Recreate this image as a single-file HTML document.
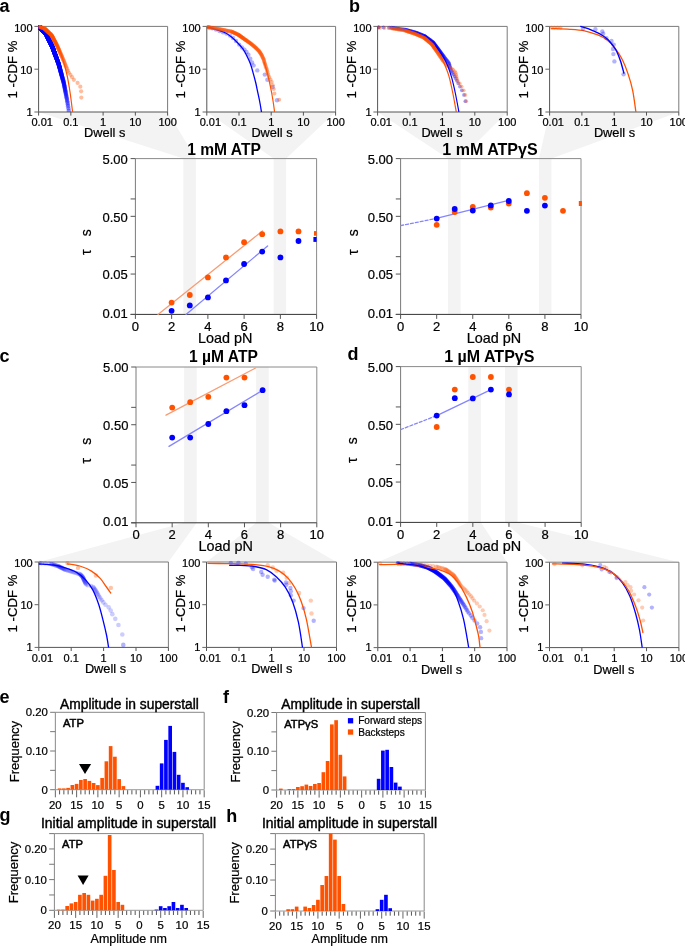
<!DOCTYPE html>
<html><head><meta charset="utf-8"><style>
html,body{margin:0;padding:0;background:#fff;}
svg{display:block;}
.wrap{filter:brightness(1);}
text{font-family:"Liberation Sans",sans-serif;stroke:#000;stroke-width:0.22px;}
text[font-weight="bold"]{stroke-width:0;}
</style></head><body>
<div class="wrap"><svg width="685" height="946" viewBox="0 0 685 946">
<rect width="685" height="946" fill="#fff"/>
<polygon points="38.60,112.00 167.60,112.00 195.85,158.60 183.35,158.60" fill="#f3f3f3"/>
<rect x="183.35" y="158.60" width="12.50" height="155.80" fill="#f3f3f3" />
<polygon points="206.80,112.00 335.60,112.00 286.15,158.60 273.65,158.60" fill="#f3f3f3"/>
<rect x="273.65" y="158.60" width="12.50" height="155.80" fill="#f3f3f3" />
<polygon points="377.60,112.00 507.20,112.00 460.55,158.60 448.05,158.60" fill="#f3f3f3"/>
<rect x="448.05" y="158.60" width="12.50" height="155.80" fill="#f3f3f3" />
<polygon points="549.60,112.00 678.80,112.00 551.45,158.60 538.95,158.60" fill="#f3f3f3"/>
<rect x="538.95" y="158.60" width="12.50" height="155.80" fill="#f3f3f3" />
<polygon points="184.10,522.80 196.70,522.80 168.40,562.00 38.80,562.00" fill="#f3f3f3"/>
<rect x="184.10" y="367.00" width="12.60" height="155.80" fill="#f3f3f3" />
<polygon points="256.10,522.80 268.70,522.80 336.50,562.00 206.50,562.00" fill="#f3f3f3"/>
<rect x="256.10" y="367.00" width="12.60" height="155.80" fill="#f3f3f3" />
<polygon points="468.30,522.40 480.90,522.40 507.00,562.20 377.80,562.20" fill="#f3f3f3"/>
<rect x="468.30" y="366.60" width="12.60" height="155.80" fill="#f3f3f3" />
<polygon points="505.00,522.40 517.60,522.40 678.90,562.20 549.50,562.20" fill="#f3f3f3"/>
<rect x="505.00" y="366.60" width="12.60" height="155.80" fill="#f3f3f3" />
<text x="-0.60" y="12.40" font-size="18" text-anchor="start" font-weight="bold" fill="#000" >a</text>
<text x="349.00" y="12.30" font-size="18" text-anchor="start" font-weight="bold" fill="#000" >b</text>
<text x="-0.40" y="362.30" font-size="18" text-anchor="start" font-weight="bold" fill="#000" >c</text>
<text x="347.60" y="360.00" font-size="18" text-anchor="start" font-weight="bold" fill="#000" >d</text>
<text x="-0.60" y="702.80" font-size="18" text-anchor="start" font-weight="bold" fill="#000" >e</text>
<text x="223.00" y="702.80" font-size="18" text-anchor="start" font-weight="bold" fill="#000" >f</text>
<text x="-0.40" y="820.80" font-size="18" text-anchor="start" font-weight="bold" fill="#000" >g</text>
<text x="226.30" y="821.60" font-size="18" text-anchor="start" font-weight="bold" fill="#000" >h</text>
<line x1="38.60" y1="26.40" x2="167.60" y2="26.40" stroke="#7a7a7a" stroke-width="1" />
<line x1="167.60" y1="26.40" x2="167.60" y2="112.00" stroke="#7a7a7a" stroke-width="1" />
<line x1="38.60" y1="112.00" x2="167.60" y2="112.00" stroke="#555" stroke-width="1" />
<line x1="38.60" y1="26.40" x2="38.60" y2="112.00" stroke="#555" stroke-width="1" />
<line x1="34.40" y1="26.40" x2="38.60" y2="26.40" stroke="#666" stroke-width="1" />
<text x="32.50" y="31.70" font-size="11" text-anchor="end" font-weight="normal" fill="#000" >100</text>
<line x1="34.40" y1="69.20" x2="38.60" y2="69.20" stroke="#666" stroke-width="1" />
<text x="32.50" y="73.70" font-size="11" text-anchor="end" font-weight="normal" fill="#000" >10</text>
<line x1="34.40" y1="112.00" x2="38.60" y2="112.00" stroke="#666" stroke-width="1" />
<text x="32.50" y="115.80" font-size="11" text-anchor="end" font-weight="normal" fill="#000" >1</text>
<line x1="38.60" y1="112.00" x2="38.60" y2="115.60" stroke="#555" stroke-width="1" />
<text x="42.20" y="126.40" font-size="11" text-anchor="middle" font-weight="normal" fill="#000" >0.01</text>
<line x1="70.85" y1="112.00" x2="70.85" y2="115.60" stroke="#555" stroke-width="1" />
<text x="70.85" y="126.40" font-size="11" text-anchor="middle" font-weight="normal" fill="#000" >0.1</text>
<line x1="103.10" y1="112.00" x2="103.10" y2="115.60" stroke="#555" stroke-width="1" />
<text x="103.10" y="126.40" font-size="11" text-anchor="middle" font-weight="normal" fill="#000" >1</text>
<line x1="135.35" y1="112.00" x2="135.35" y2="115.60" stroke="#555" stroke-width="1" />
<text x="135.35" y="126.40" font-size="11" text-anchor="middle" font-weight="normal" fill="#000" >10</text>
<line x1="167.60" y1="112.00" x2="167.60" y2="115.60" stroke="#555" stroke-width="1" />
<text x="167.60" y="126.40" font-size="11" text-anchor="middle" font-weight="normal" fill="#000" >100</text>
<text x="104.70" y="137.00" font-size="12.8" text-anchor="middle" font-weight="normal" fill="#000" >Dwell s</text>
<text transform="translate(16.70,69.50) rotate(-90)" font-size="13.2" text-anchor="middle" font-weight="normal" >1 -CDF %</text>
<line x1="206.80" y1="26.40" x2="335.60" y2="26.40" stroke="#7a7a7a" stroke-width="1" />
<line x1="335.60" y1="26.40" x2="335.60" y2="112.00" stroke="#7a7a7a" stroke-width="1" />
<line x1="206.80" y1="112.00" x2="335.60" y2="112.00" stroke="#555" stroke-width="1" />
<line x1="206.80" y1="26.40" x2="206.80" y2="112.00" stroke="#555" stroke-width="1" />
<line x1="202.60" y1="26.40" x2="206.80" y2="26.40" stroke="#666" stroke-width="1" />
<text x="200.70" y="31.70" font-size="11" text-anchor="end" font-weight="normal" fill="#000" >100</text>
<line x1="202.60" y1="69.20" x2="206.80" y2="69.20" stroke="#666" stroke-width="1" />
<text x="200.70" y="73.70" font-size="11" text-anchor="end" font-weight="normal" fill="#000" >10</text>
<line x1="202.60" y1="112.00" x2="206.80" y2="112.00" stroke="#666" stroke-width="1" />
<text x="200.70" y="115.80" font-size="11" text-anchor="end" font-weight="normal" fill="#000" >1</text>
<line x1="206.80" y1="112.00" x2="206.80" y2="115.60" stroke="#555" stroke-width="1" />
<text x="210.40" y="126.40" font-size="11" text-anchor="middle" font-weight="normal" fill="#000" >0.01</text>
<line x1="239.00" y1="112.00" x2="239.00" y2="115.60" stroke="#555" stroke-width="1" />
<text x="239.00" y="126.40" font-size="11" text-anchor="middle" font-weight="normal" fill="#000" >0.1</text>
<line x1="271.20" y1="112.00" x2="271.20" y2="115.60" stroke="#555" stroke-width="1" />
<text x="271.20" y="126.40" font-size="11" text-anchor="middle" font-weight="normal" fill="#000" >1</text>
<line x1="303.40" y1="112.00" x2="303.40" y2="115.60" stroke="#555" stroke-width="1" />
<text x="303.40" y="126.40" font-size="11" text-anchor="middle" font-weight="normal" fill="#000" >10</text>
<line x1="335.60" y1="112.00" x2="335.60" y2="115.60" stroke="#555" stroke-width="1" />
<text x="335.60" y="126.40" font-size="11" text-anchor="middle" font-weight="normal" fill="#000" >100</text>
<text x="272.00" y="137.00" font-size="12.8" text-anchor="middle" font-weight="normal" fill="#000" >Dwell s</text>
<text transform="translate(184.90,69.50) rotate(-90)" font-size="13.2" text-anchor="middle" font-weight="normal" >1 -CDF %</text>
<line x1="377.60" y1="26.40" x2="507.20" y2="26.40" stroke="#7a7a7a" stroke-width="1" />
<line x1="507.20" y1="26.40" x2="507.20" y2="112.00" stroke="#7a7a7a" stroke-width="1" />
<line x1="377.60" y1="112.00" x2="507.20" y2="112.00" stroke="#555" stroke-width="1" />
<line x1="377.60" y1="26.40" x2="377.60" y2="112.00" stroke="#555" stroke-width="1" />
<line x1="373.40" y1="26.40" x2="377.60" y2="26.40" stroke="#666" stroke-width="1" />
<text x="371.50" y="31.70" font-size="11" text-anchor="end" font-weight="normal" fill="#000" >100</text>
<line x1="373.40" y1="69.20" x2="377.60" y2="69.20" stroke="#666" stroke-width="1" />
<text x="371.50" y="73.70" font-size="11" text-anchor="end" font-weight="normal" fill="#000" >10</text>
<line x1="373.40" y1="112.00" x2="377.60" y2="112.00" stroke="#666" stroke-width="1" />
<text x="371.50" y="115.80" font-size="11" text-anchor="end" font-weight="normal" fill="#000" >1</text>
<line x1="377.60" y1="112.00" x2="377.60" y2="115.60" stroke="#555" stroke-width="1" />
<text x="381.20" y="126.40" font-size="11" text-anchor="middle" font-weight="normal" fill="#000" >0.01</text>
<line x1="410.00" y1="112.00" x2="410.00" y2="115.60" stroke="#555" stroke-width="1" />
<text x="410.00" y="126.40" font-size="11" text-anchor="middle" font-weight="normal" fill="#000" >0.1</text>
<line x1="442.40" y1="112.00" x2="442.40" y2="115.60" stroke="#555" stroke-width="1" />
<text x="442.40" y="126.40" font-size="11" text-anchor="middle" font-weight="normal" fill="#000" >1</text>
<line x1="474.80" y1="112.00" x2="474.80" y2="115.60" stroke="#555" stroke-width="1" />
<text x="474.80" y="126.40" font-size="11" text-anchor="middle" font-weight="normal" fill="#000" >10</text>
<line x1="507.20" y1="112.00" x2="507.20" y2="115.60" stroke="#555" stroke-width="1" />
<text x="507.20" y="126.40" font-size="11" text-anchor="middle" font-weight="normal" fill="#000" >100</text>
<text x="442.00" y="137.00" font-size="12.8" text-anchor="middle" font-weight="normal" fill="#000" >Dwell s</text>
<text transform="translate(355.70,69.50) rotate(-90)" font-size="13.2" text-anchor="middle" font-weight="normal" >1 -CDF %</text>
<line x1="549.60" y1="26.40" x2="678.80" y2="26.40" stroke="#7a7a7a" stroke-width="1" />
<line x1="678.80" y1="26.40" x2="678.80" y2="112.00" stroke="#7a7a7a" stroke-width="1" />
<line x1="549.60" y1="112.00" x2="678.80" y2="112.00" stroke="#555" stroke-width="1" />
<line x1="549.60" y1="26.40" x2="549.60" y2="112.00" stroke="#555" stroke-width="1" />
<line x1="545.40" y1="26.40" x2="549.60" y2="26.40" stroke="#666" stroke-width="1" />
<text x="543.50" y="31.70" font-size="11" text-anchor="end" font-weight="normal" fill="#000" >100</text>
<line x1="545.40" y1="69.20" x2="549.60" y2="69.20" stroke="#666" stroke-width="1" />
<text x="543.50" y="73.70" font-size="11" text-anchor="end" font-weight="normal" fill="#000" >10</text>
<line x1="545.40" y1="112.00" x2="549.60" y2="112.00" stroke="#666" stroke-width="1" />
<text x="543.50" y="115.80" font-size="11" text-anchor="end" font-weight="normal" fill="#000" >1</text>
<line x1="549.60" y1="112.00" x2="549.60" y2="115.60" stroke="#555" stroke-width="1" />
<text x="553.20" y="126.40" font-size="11" text-anchor="middle" font-weight="normal" fill="#000" >0.01</text>
<line x1="581.90" y1="112.00" x2="581.90" y2="115.60" stroke="#555" stroke-width="1" />
<text x="581.90" y="126.40" font-size="11" text-anchor="middle" font-weight="normal" fill="#000" >0.1</text>
<line x1="614.20" y1="112.00" x2="614.20" y2="115.60" stroke="#555" stroke-width="1" />
<text x="614.20" y="126.40" font-size="11" text-anchor="middle" font-weight="normal" fill="#000" >1</text>
<line x1="646.50" y1="112.00" x2="646.50" y2="115.60" stroke="#555" stroke-width="1" />
<text x="646.50" y="126.40" font-size="11" text-anchor="middle" font-weight="normal" fill="#000" >10</text>
<line x1="678.80" y1="112.00" x2="678.80" y2="115.60" stroke="#555" stroke-width="1" />
<text x="678.80" y="126.40" font-size="11" text-anchor="middle" font-weight="normal" fill="#000" >100</text>
<text x="614.50" y="137.00" font-size="12.8" text-anchor="middle" font-weight="normal" fill="#000" >Dwell s</text>
<text transform="translate(527.70,69.50) rotate(-90)" font-size="13.2" text-anchor="middle" font-weight="normal" >1 -CDF %</text>
<line x1="38.80" y1="562.00" x2="168.40" y2="562.00" stroke="#7a7a7a" stroke-width="1" />
<line x1="168.40" y1="562.00" x2="168.40" y2="647.40" stroke="#7a7a7a" stroke-width="1" />
<line x1="38.80" y1="647.40" x2="168.40" y2="647.40" stroke="#555" stroke-width="1" />
<line x1="38.80" y1="562.00" x2="38.80" y2="647.40" stroke="#555" stroke-width="1" />
<line x1="34.60" y1="562.00" x2="38.80" y2="562.00" stroke="#666" stroke-width="1" />
<text x="32.70" y="566.60" font-size="11" text-anchor="end" font-weight="normal" fill="#000" >100</text>
<line x1="34.60" y1="604.70" x2="38.80" y2="604.70" stroke="#666" stroke-width="1" />
<text x="32.70" y="608.50" font-size="11" text-anchor="end" font-weight="normal" fill="#000" >10</text>
<line x1="34.60" y1="647.40" x2="38.80" y2="647.40" stroke="#666" stroke-width="1" />
<text x="32.70" y="650.50" font-size="11" text-anchor="end" font-weight="normal" fill="#000" >1</text>
<line x1="38.80" y1="647.40" x2="38.80" y2="651.00" stroke="#555" stroke-width="1" />
<text x="42.40" y="661.80" font-size="11" text-anchor="middle" font-weight="normal" fill="#000" >0.01</text>
<line x1="71.20" y1="647.40" x2="71.20" y2="651.00" stroke="#555" stroke-width="1" />
<text x="71.20" y="661.80" font-size="11" text-anchor="middle" font-weight="normal" fill="#000" >0.1</text>
<line x1="103.60" y1="647.40" x2="103.60" y2="651.00" stroke="#555" stroke-width="1" />
<text x="103.60" y="661.80" font-size="11" text-anchor="middle" font-weight="normal" fill="#000" >1</text>
<line x1="136.00" y1="647.40" x2="136.00" y2="651.00" stroke="#555" stroke-width="1" />
<text x="136.00" y="661.80" font-size="11" text-anchor="middle" font-weight="normal" fill="#000" >10</text>
<line x1="168.40" y1="647.40" x2="168.40" y2="651.00" stroke="#555" stroke-width="1" />
<text x="168.40" y="661.80" font-size="11" text-anchor="middle" font-weight="normal" fill="#000" >100</text>
<text x="105.50" y="673.40" font-size="12.8" text-anchor="middle" font-weight="normal" fill="#000" >Dwell s</text>
<text transform="translate(16.90,603.50) rotate(-90)" font-size="13.2" text-anchor="middle" font-weight="normal" >1 -CDF %</text>
<line x1="206.50" y1="562.00" x2="336.50" y2="562.00" stroke="#7a7a7a" stroke-width="1" />
<line x1="336.50" y1="562.00" x2="336.50" y2="647.40" stroke="#7a7a7a" stroke-width="1" />
<line x1="206.50" y1="647.40" x2="336.50" y2="647.40" stroke="#555" stroke-width="1" />
<line x1="206.50" y1="562.00" x2="206.50" y2="647.40" stroke="#555" stroke-width="1" />
<line x1="202.30" y1="562.00" x2="206.50" y2="562.00" stroke="#666" stroke-width="1" />
<text x="200.40" y="566.60" font-size="11" text-anchor="end" font-weight="normal" fill="#000" >100</text>
<line x1="202.30" y1="604.70" x2="206.50" y2="604.70" stroke="#666" stroke-width="1" />
<text x="200.40" y="608.50" font-size="11" text-anchor="end" font-weight="normal" fill="#000" >10</text>
<line x1="202.30" y1="647.40" x2="206.50" y2="647.40" stroke="#666" stroke-width="1" />
<text x="200.40" y="650.50" font-size="11" text-anchor="end" font-weight="normal" fill="#000" >1</text>
<line x1="206.50" y1="647.40" x2="206.50" y2="651.00" stroke="#555" stroke-width="1" />
<text x="210.10" y="661.80" font-size="11" text-anchor="middle" font-weight="normal" fill="#000" >0.01</text>
<line x1="239.00" y1="647.40" x2="239.00" y2="651.00" stroke="#555" stroke-width="1" />
<text x="239.00" y="661.80" font-size="11" text-anchor="middle" font-weight="normal" fill="#000" >0.1</text>
<line x1="271.50" y1="647.40" x2="271.50" y2="651.00" stroke="#555" stroke-width="1" />
<text x="271.50" y="661.80" font-size="11" text-anchor="middle" font-weight="normal" fill="#000" >1</text>
<line x1="304.00" y1="647.40" x2="304.00" y2="651.00" stroke="#555" stroke-width="1" />
<text x="304.00" y="661.80" font-size="11" text-anchor="middle" font-weight="normal" fill="#000" >10</text>
<line x1="336.50" y1="647.40" x2="336.50" y2="651.00" stroke="#555" stroke-width="1" />
<text x="336.50" y="661.80" font-size="11" text-anchor="middle" font-weight="normal" fill="#000" >100</text>
<text x="271.90" y="673.40" font-size="12.8" text-anchor="middle" font-weight="normal" fill="#000" >Dwell s</text>
<text transform="translate(184.60,603.50) rotate(-90)" font-size="13.2" text-anchor="middle" font-weight="normal" >1 -CDF %</text>
<line x1="377.80" y1="562.20" x2="507.00" y2="562.20" stroke="#7a7a7a" stroke-width="1" />
<line x1="507.00" y1="562.20" x2="507.00" y2="647.60" stroke="#7a7a7a" stroke-width="1" />
<line x1="377.80" y1="647.60" x2="507.00" y2="647.60" stroke="#555" stroke-width="1" />
<line x1="377.80" y1="562.20" x2="377.80" y2="647.60" stroke="#555" stroke-width="1" />
<line x1="373.60" y1="562.20" x2="377.80" y2="562.20" stroke="#666" stroke-width="1" />
<text x="371.70" y="566.80" font-size="11" text-anchor="end" font-weight="normal" fill="#000" >100</text>
<line x1="373.60" y1="604.90" x2="377.80" y2="604.90" stroke="#666" stroke-width="1" />
<text x="371.70" y="608.70" font-size="11" text-anchor="end" font-weight="normal" fill="#000" >10</text>
<line x1="373.60" y1="647.60" x2="377.80" y2="647.60" stroke="#666" stroke-width="1" />
<text x="371.70" y="650.70" font-size="11" text-anchor="end" font-weight="normal" fill="#000" >1</text>
<line x1="377.80" y1="647.60" x2="377.80" y2="651.20" stroke="#555" stroke-width="1" />
<text x="381.40" y="662.00" font-size="11" text-anchor="middle" font-weight="normal" fill="#000" >0.01</text>
<line x1="410.10" y1="647.60" x2="410.10" y2="651.20" stroke="#555" stroke-width="1" />
<text x="410.10" y="662.00" font-size="11" text-anchor="middle" font-weight="normal" fill="#000" >0.1</text>
<line x1="442.40" y1="647.60" x2="442.40" y2="651.20" stroke="#555" stroke-width="1" />
<text x="442.40" y="662.00" font-size="11" text-anchor="middle" font-weight="normal" fill="#000" >1</text>
<line x1="474.70" y1="647.60" x2="474.70" y2="651.20" stroke="#555" stroke-width="1" />
<text x="474.70" y="662.00" font-size="11" text-anchor="middle" font-weight="normal" fill="#000" >10</text>
<line x1="507.00" y1="647.60" x2="507.00" y2="651.20" stroke="#555" stroke-width="1" />
<text x="507.00" y="662.00" font-size="11" text-anchor="middle" font-weight="normal" fill="#000" >100</text>
<text x="441.60" y="673.60" font-size="12.8" text-anchor="middle" font-weight="normal" fill="#000" >Dwell s</text>
<text transform="translate(355.90,603.70) rotate(-90)" font-size="13.2" text-anchor="middle" font-weight="normal" >1 -CDF %</text>
<line x1="549.50" y1="562.20" x2="678.90" y2="562.20" stroke="#7a7a7a" stroke-width="1" />
<line x1="678.90" y1="562.20" x2="678.90" y2="647.60" stroke="#7a7a7a" stroke-width="1" />
<line x1="549.50" y1="647.60" x2="678.90" y2="647.60" stroke="#555" stroke-width="1" />
<line x1="549.50" y1="562.20" x2="549.50" y2="647.60" stroke="#555" stroke-width="1" />
<line x1="545.30" y1="562.20" x2="549.50" y2="562.20" stroke="#666" stroke-width="1" />
<text x="543.40" y="566.80" font-size="11" text-anchor="end" font-weight="normal" fill="#000" >100</text>
<line x1="545.30" y1="604.90" x2="549.50" y2="604.90" stroke="#666" stroke-width="1" />
<text x="543.40" y="608.70" font-size="11" text-anchor="end" font-weight="normal" fill="#000" >10</text>
<line x1="545.30" y1="647.60" x2="549.50" y2="647.60" stroke="#666" stroke-width="1" />
<text x="543.40" y="650.70" font-size="11" text-anchor="end" font-weight="normal" fill="#000" >1</text>
<line x1="549.50" y1="647.60" x2="549.50" y2="651.20" stroke="#555" stroke-width="1" />
<text x="553.10" y="662.00" font-size="11" text-anchor="middle" font-weight="normal" fill="#000" >0.01</text>
<line x1="581.85" y1="647.60" x2="581.85" y2="651.20" stroke="#555" stroke-width="1" />
<text x="581.85" y="662.00" font-size="11" text-anchor="middle" font-weight="normal" fill="#000" >0.1</text>
<line x1="614.20" y1="647.60" x2="614.20" y2="651.20" stroke="#555" stroke-width="1" />
<text x="614.20" y="662.00" font-size="11" text-anchor="middle" font-weight="normal" fill="#000" >1</text>
<line x1="646.55" y1="647.60" x2="646.55" y2="651.20" stroke="#555" stroke-width="1" />
<text x="646.55" y="662.00" font-size="11" text-anchor="middle" font-weight="normal" fill="#000" >10</text>
<line x1="678.90" y1="647.60" x2="678.90" y2="651.20" stroke="#555" stroke-width="1" />
<text x="678.90" y="662.00" font-size="11" text-anchor="middle" font-weight="normal" fill="#000" >100</text>
<text x="613.90" y="673.60" font-size="12.8" text-anchor="middle" font-weight="normal" fill="#000" >Dwell s</text>
<text transform="translate(527.60,603.70) rotate(-90)" font-size="13.2" text-anchor="middle" font-weight="normal" >1 -CDF %</text>
<line x1="135.40" y1="158.60" x2="316.60" y2="158.60" stroke="#8a8a8a" stroke-width="1" />
<line x1="316.60" y1="158.60" x2="316.60" y2="314.40" stroke="#8a8a8a" stroke-width="1" />
<line x1="135.40" y1="158.60" x2="135.40" y2="314.40" stroke="#7a7a7a" stroke-width="1" />
<line x1="130.60" y1="314.40" x2="316.60" y2="314.40" stroke="#333" stroke-width="1" />
<line x1="130.60" y1="158.60" x2="135.40" y2="158.60" stroke="#555" stroke-width="1" />
<text x="127.80" y="163.80" font-size="13" text-anchor="end" font-weight="normal" fill="#000" >5.00</text>
<line x1="130.60" y1="216.33" x2="135.40" y2="216.33" stroke="#555" stroke-width="1" />
<text x="127.80" y="221.53" font-size="13" text-anchor="end" font-weight="normal" fill="#000" >0.50</text>
<line x1="130.60" y1="274.05" x2="135.40" y2="274.05" stroke="#555" stroke-width="1" />
<text x="127.80" y="279.25" font-size="13" text-anchor="end" font-weight="normal" fill="#000" >0.05</text>
<line x1="130.60" y1="314.40" x2="135.40" y2="314.40" stroke="#555" stroke-width="1" />
<text x="127.80" y="317.90" font-size="13" text-anchor="end" font-weight="normal" fill="#000" >0.01</text>
<line x1="130.60" y1="198.95" x2="135.40" y2="198.95" stroke="#555" stroke-width="1" />
<line x1="130.60" y1="256.67" x2="135.40" y2="256.67" stroke="#555" stroke-width="1" />
<line x1="135.40" y1="314.40" x2="135.40" y2="318.90" stroke="#555" stroke-width="1" />
<text x="135.40" y="330.90" font-size="13" text-anchor="middle" font-weight="normal" fill="#000" >0</text>
<line x1="171.64" y1="314.40" x2="171.64" y2="318.90" stroke="#555" stroke-width="1" />
<text x="171.64" y="330.90" font-size="13" text-anchor="middle" font-weight="normal" fill="#000" >2</text>
<line x1="207.88" y1="314.40" x2="207.88" y2="318.90" stroke="#555" stroke-width="1" />
<text x="207.88" y="330.90" font-size="13" text-anchor="middle" font-weight="normal" fill="#000" >4</text>
<line x1="244.12" y1="314.40" x2="244.12" y2="318.90" stroke="#555" stroke-width="1" />
<text x="244.12" y="330.90" font-size="13" text-anchor="middle" font-weight="normal" fill="#000" >6</text>
<line x1="280.36" y1="314.40" x2="280.36" y2="318.90" stroke="#555" stroke-width="1" />
<text x="280.36" y="330.90" font-size="13" text-anchor="middle" font-weight="normal" fill="#000" >8</text>
<line x1="316.60" y1="314.40" x2="316.60" y2="318.90" stroke="#555" stroke-width="1" />
<text x="316.60" y="330.90" font-size="13" text-anchor="middle" font-weight="normal" fill="#000" >10</text>
<text x="225.20" y="342.60" font-size="14.4" text-anchor="middle" font-weight="normal" fill="#000" >Load pN</text>
<text x="224.00" y="154.60" font-size="15.6" text-anchor="middle" font-weight="bold" fill="#000" >1 mM ATP</text>
<text transform="translate(90.80,252.30) rotate(-90)" font-size="14" text-anchor="middle" font-weight="normal" >τ</text>
<text transform="translate(90.80,232.80) rotate(-90)" font-size="14" text-anchor="middle" font-weight="normal" >s</text>
<line x1="400.60" y1="158.60" x2="581.00" y2="158.60" stroke="#8a8a8a" stroke-width="1" />
<line x1="581.00" y1="158.60" x2="581.00" y2="314.40" stroke="#8a8a8a" stroke-width="1" />
<line x1="400.60" y1="158.60" x2="400.60" y2="314.40" stroke="#7a7a7a" stroke-width="1" />
<line x1="395.80" y1="314.40" x2="581.00" y2="314.40" stroke="#333" stroke-width="1" />
<line x1="395.80" y1="158.60" x2="400.60" y2="158.60" stroke="#555" stroke-width="1" />
<text x="393.00" y="163.80" font-size="13" text-anchor="end" font-weight="normal" fill="#000" >5.00</text>
<line x1="395.80" y1="216.33" x2="400.60" y2="216.33" stroke="#555" stroke-width="1" />
<text x="393.00" y="221.53" font-size="13" text-anchor="end" font-weight="normal" fill="#000" >0.50</text>
<line x1="395.80" y1="274.05" x2="400.60" y2="274.05" stroke="#555" stroke-width="1" />
<text x="393.00" y="279.25" font-size="13" text-anchor="end" font-weight="normal" fill="#000" >0.05</text>
<line x1="395.80" y1="314.40" x2="400.60" y2="314.40" stroke="#555" stroke-width="1" />
<text x="393.00" y="317.90" font-size="13" text-anchor="end" font-weight="normal" fill="#000" >0.01</text>
<line x1="395.80" y1="198.95" x2="400.60" y2="198.95" stroke="#555" stroke-width="1" />
<line x1="395.80" y1="256.67" x2="400.60" y2="256.67" stroke="#555" stroke-width="1" />
<line x1="400.60" y1="314.40" x2="400.60" y2="318.90" stroke="#555" stroke-width="1" />
<text x="400.60" y="330.90" font-size="13" text-anchor="middle" font-weight="normal" fill="#000" >0</text>
<line x1="436.68" y1="314.40" x2="436.68" y2="318.90" stroke="#555" stroke-width="1" />
<text x="436.68" y="330.90" font-size="13" text-anchor="middle" font-weight="normal" fill="#000" >2</text>
<line x1="472.76" y1="314.40" x2="472.76" y2="318.90" stroke="#555" stroke-width="1" />
<text x="472.76" y="330.90" font-size="13" text-anchor="middle" font-weight="normal" fill="#000" >4</text>
<line x1="508.84" y1="314.40" x2="508.84" y2="318.90" stroke="#555" stroke-width="1" />
<text x="508.84" y="330.90" font-size="13" text-anchor="middle" font-weight="normal" fill="#000" >6</text>
<line x1="544.92" y1="314.40" x2="544.92" y2="318.90" stroke="#555" stroke-width="1" />
<text x="544.92" y="330.90" font-size="13" text-anchor="middle" font-weight="normal" fill="#000" >8</text>
<line x1="581.00" y1="314.40" x2="581.00" y2="318.90" stroke="#555" stroke-width="1" />
<text x="581.00" y="330.90" font-size="13" text-anchor="middle" font-weight="normal" fill="#000" >10</text>
<text x="494.00" y="342.60" font-size="14.4" text-anchor="middle" font-weight="normal" fill="#000" >Load pN</text>
<text x="490.00" y="154.60" font-size="16.05" text-anchor="middle" font-weight="bold" fill="#000" >1 mM ATPγS</text>
<text transform="translate(357.90,252.30) rotate(-90)" font-size="14" text-anchor="middle" font-weight="normal" >τ</text>
<text transform="translate(357.90,232.80) rotate(-90)" font-size="14" text-anchor="middle" font-weight="normal" >s</text>
<line x1="136.00" y1="367.00" x2="316.80" y2="367.00" stroke="#8a8a8a" stroke-width="1" />
<line x1="316.80" y1="367.00" x2="316.80" y2="522.80" stroke="#8a8a8a" stroke-width="1" />
<line x1="136.00" y1="367.00" x2="136.00" y2="522.80" stroke="#7a7a7a" stroke-width="1" />
<line x1="131.20" y1="522.80" x2="316.80" y2="522.80" stroke="#333" stroke-width="1" />
<line x1="131.20" y1="367.00" x2="136.00" y2="367.00" stroke="#555" stroke-width="1" />
<text x="128.40" y="372.20" font-size="13" text-anchor="end" font-weight="normal" fill="#000" >5.00</text>
<line x1="131.20" y1="424.73" x2="136.00" y2="424.73" stroke="#555" stroke-width="1" />
<text x="128.40" y="429.93" font-size="13" text-anchor="end" font-weight="normal" fill="#000" >0.50</text>
<line x1="131.20" y1="482.45" x2="136.00" y2="482.45" stroke="#555" stroke-width="1" />
<text x="128.40" y="487.65" font-size="13" text-anchor="end" font-weight="normal" fill="#000" >0.05</text>
<line x1="131.20" y1="522.80" x2="136.00" y2="522.80" stroke="#555" stroke-width="1" />
<text x="128.40" y="526.30" font-size="13" text-anchor="end" font-weight="normal" fill="#000" >0.01</text>
<line x1="131.20" y1="407.35" x2="136.00" y2="407.35" stroke="#555" stroke-width="1" />
<line x1="131.20" y1="465.07" x2="136.00" y2="465.07" stroke="#555" stroke-width="1" />
<line x1="136.00" y1="522.80" x2="136.00" y2="527.30" stroke="#555" stroke-width="1" />
<text x="136.00" y="539.30" font-size="13" text-anchor="middle" font-weight="normal" fill="#000" >0</text>
<line x1="172.16" y1="522.80" x2="172.16" y2="527.30" stroke="#555" stroke-width="1" />
<text x="172.16" y="539.30" font-size="13" text-anchor="middle" font-weight="normal" fill="#000" >2</text>
<line x1="208.32" y1="522.80" x2="208.32" y2="527.30" stroke="#555" stroke-width="1" />
<text x="208.32" y="539.30" font-size="13" text-anchor="middle" font-weight="normal" fill="#000" >4</text>
<line x1="244.48" y1="522.80" x2="244.48" y2="527.30" stroke="#555" stroke-width="1" />
<text x="244.48" y="539.30" font-size="13" text-anchor="middle" font-weight="normal" fill="#000" >6</text>
<line x1="280.64" y1="522.80" x2="280.64" y2="527.30" stroke="#555" stroke-width="1" />
<text x="280.64" y="539.30" font-size="13" text-anchor="middle" font-weight="normal" fill="#000" >8</text>
<line x1="316.80" y1="522.80" x2="316.80" y2="527.30" stroke="#555" stroke-width="1" />
<text x="316.80" y="539.30" font-size="13" text-anchor="middle" font-weight="normal" fill="#000" >10</text>
<text x="225.60" y="551.00" font-size="14.4" text-anchor="middle" font-weight="normal" fill="#000" >Load pN</text>
<text x="223.50" y="362.00" font-size="15.6" text-anchor="middle" font-weight="bold" fill="#000" >1 µM ATP</text>
<text transform="translate(91.40,460.70) rotate(-90)" font-size="14" text-anchor="middle" font-weight="normal" >τ</text>
<text transform="translate(91.40,441.20) rotate(-90)" font-size="14" text-anchor="middle" font-weight="normal" >s</text>
<line x1="400.60" y1="366.60" x2="581.20" y2="366.60" stroke="#8a8a8a" stroke-width="1" />
<line x1="581.20" y1="366.60" x2="581.20" y2="522.40" stroke="#8a8a8a" stroke-width="1" />
<line x1="400.60" y1="366.60" x2="400.60" y2="522.40" stroke="#7a7a7a" stroke-width="1" />
<line x1="395.80" y1="522.40" x2="581.20" y2="522.40" stroke="#333" stroke-width="1" />
<line x1="395.80" y1="366.60" x2="400.60" y2="366.60" stroke="#555" stroke-width="1" />
<text x="393.00" y="371.80" font-size="13" text-anchor="end" font-weight="normal" fill="#000" >5.00</text>
<line x1="395.80" y1="424.33" x2="400.60" y2="424.33" stroke="#555" stroke-width="1" />
<text x="393.00" y="429.53" font-size="13" text-anchor="end" font-weight="normal" fill="#000" >0.50</text>
<line x1="395.80" y1="482.05" x2="400.60" y2="482.05" stroke="#555" stroke-width="1" />
<text x="393.00" y="487.25" font-size="13" text-anchor="end" font-weight="normal" fill="#000" >0.05</text>
<line x1="395.80" y1="522.40" x2="400.60" y2="522.40" stroke="#555" stroke-width="1" />
<text x="393.00" y="525.90" font-size="13" text-anchor="end" font-weight="normal" fill="#000" >0.01</text>
<line x1="395.80" y1="406.95" x2="400.60" y2="406.95" stroke="#555" stroke-width="1" />
<line x1="395.80" y1="464.67" x2="400.60" y2="464.67" stroke="#555" stroke-width="1" />
<line x1="400.60" y1="522.40" x2="400.60" y2="526.90" stroke="#555" stroke-width="1" />
<text x="400.60" y="538.90" font-size="13" text-anchor="middle" font-weight="normal" fill="#000" >0</text>
<line x1="436.72" y1="522.40" x2="436.72" y2="526.90" stroke="#555" stroke-width="1" />
<text x="436.72" y="538.90" font-size="13" text-anchor="middle" font-weight="normal" fill="#000" >2</text>
<line x1="472.84" y1="522.40" x2="472.84" y2="526.90" stroke="#555" stroke-width="1" />
<text x="472.84" y="538.90" font-size="13" text-anchor="middle" font-weight="normal" fill="#000" >4</text>
<line x1="508.96" y1="522.40" x2="508.96" y2="526.90" stroke="#555" stroke-width="1" />
<text x="508.96" y="538.90" font-size="13" text-anchor="middle" font-weight="normal" fill="#000" >6</text>
<line x1="545.08" y1="522.40" x2="545.08" y2="526.90" stroke="#555" stroke-width="1" />
<text x="545.08" y="538.90" font-size="13" text-anchor="middle" font-weight="normal" fill="#000" >8</text>
<line x1="581.20" y1="522.40" x2="581.20" y2="526.90" stroke="#555" stroke-width="1" />
<text x="581.20" y="538.90" font-size="13" text-anchor="middle" font-weight="normal" fill="#000" >10</text>
<text x="494.00" y="550.60" font-size="14.4" text-anchor="middle" font-weight="normal" fill="#000" >Load pN</text>
<text x="489.30" y="361.60" font-size="16.05" text-anchor="middle" font-weight="bold" fill="#000" >1 µM ATPγS</text>
<text transform="translate(357.00,460.30) rotate(-90)" font-size="14" text-anchor="middle" font-weight="normal" >τ</text>
<text transform="translate(357.00,440.80) rotate(-90)" font-size="14" text-anchor="middle" font-weight="normal" >s</text>
<clipPath id="clip_a"><rect x="135.4" y="158.6" width="181.20000000000002" height="155.79999999999998"/></clipPath>
<clipPath id="clip_b"><rect x="400.6" y="158.6" width="180.39999999999998" height="155.79999999999998"/></clipPath>
<clipPath id="clip_c"><rect x="136.0" y="367.0" width="180.8" height="155.79999999999995"/></clipPath>
<clipPath id="clip_d"><rect x="400.6" y="366.6" width="180.60000000000002" height="155.79999999999995"/></clipPath>
<polyline points="158.0,314.4 262.4,231.0" fill="none" stroke="#f99c74" stroke-width="1.3" stroke-linejoin="round" stroke-linecap="round" />
<polyline points="186.0,314.4 267.6,246.0" fill="none" stroke="#8585ff" stroke-width="1.3" stroke-linejoin="round" stroke-linecap="round" />
<circle cx="171.6" cy="302.6" r="2.9" fill="#ff5200" />
<circle cx="189.8" cy="295.0" r="2.9" fill="#ff5200" />
<circle cx="207.9" cy="277.4" r="2.9" fill="#ff5200" />
<circle cx="226.0" cy="257.4" r="2.9" fill="#ff5200" />
<circle cx="244.1" cy="242.2" r="2.9" fill="#ff5200" />
<circle cx="262.2" cy="234.2" r="2.9" fill="#ff5200" />
<circle cx="280.4" cy="231.4" r="2.9" fill="#ff5200" />
<circle cx="298.5" cy="231.4" r="2.9" fill="#ff5200" />
<rect x="314.00" y="231.10" width="2.60" height="4.60" fill="#ff5200" />
<circle cx="171.6" cy="310.8" r="2.9" fill="#0000ff" />
<circle cx="189.8" cy="305.4" r="2.9" fill="#0000ff" />
<circle cx="207.9" cy="297.4" r="2.9" fill="#0000ff" />
<circle cx="226.0" cy="280.4" r="2.9" fill="#0000ff" />
<circle cx="244.1" cy="264.0" r="2.9" fill="#0000ff" />
<circle cx="262.2" cy="251.6" r="2.9" fill="#0000ff" />
<circle cx="280.4" cy="257.4" r="2.9" fill="#0000ff" />
<circle cx="298.5" cy="241.0" r="2.9" fill="#0000ff" />
<rect x="313.40" y="237.00" width="3.20" height="4.90" fill="#0000ff" />
<polyline points="400.6,225.6 436.4,218.4" fill="none" stroke="#8585ff" stroke-width="1.3" stroke-linejoin="round" stroke-linecap="round" stroke-dasharray="3,2"/>
<polyline points="436.4,218.4 508.6,200.4" fill="none" stroke="#8585ff" stroke-width="1.3" stroke-linejoin="round" stroke-linecap="round" />
<circle cx="436.7" cy="224.8" r="2.9" fill="#ff5200" />
<circle cx="454.7" cy="212.0" r="2.9" fill="#ff5200" />
<circle cx="472.8" cy="207.0" r="2.9" fill="#ff5200" />
<circle cx="490.8" cy="207.6" r="2.9" fill="#ff5200" />
<circle cx="508.8" cy="203.6" r="2.9" fill="#ff5200" />
<circle cx="526.9" cy="193.2" r="2.9" fill="#ff5200" />
<circle cx="544.9" cy="197.8" r="2.9" fill="#ff5200" />
<circle cx="563.0" cy="210.8" r="2.9" fill="#ff5200" />
<rect x="578.80" y="201.00" width="3.10" height="5.00" fill="#ff5200" />
<circle cx="436.7" cy="218.6" r="2.9" fill="#0000ff" />
<circle cx="454.7" cy="209.0" r="2.9" fill="#0000ff" />
<circle cx="472.8" cy="210.6" r="2.9" fill="#0000ff" />
<circle cx="490.8" cy="205.4" r="2.9" fill="#0000ff" />
<circle cx="508.8" cy="201.0" r="2.9" fill="#0000ff" />
<circle cx="526.9" cy="210.8" r="2.9" fill="#0000ff" />
<circle cx="544.9" cy="205.6" r="2.9" fill="#0000ff" />
<polyline points="166.0,415.2 255.6,368.0" fill="none" stroke="#f99c74" stroke-width="1.3" stroke-linejoin="round" stroke-linecap="round" />
<polyline points="169.0,446.4 262.4,390.4" fill="none" stroke="#8585ff" stroke-width="1.3" stroke-linejoin="round" stroke-linecap="round" />
<circle cx="172.2" cy="407.6" r="2.9" fill="#ff5200" />
<circle cx="190.2" cy="402.2" r="2.9" fill="#ff5200" />
<circle cx="208.3" cy="396.8" r="2.9" fill="#ff5200" />
<circle cx="226.4" cy="377.6" r="2.9" fill="#ff5200" />
<circle cx="244.5" cy="377.6" r="2.9" fill="#ff5200" />
<circle cx="172.2" cy="437.6" r="2.9" fill="#0000ff" />
<circle cx="190.2" cy="437.6" r="2.9" fill="#0000ff" />
<circle cx="208.3" cy="424.0" r="2.9" fill="#0000ff" />
<circle cx="226.4" cy="411.2" r="2.9" fill="#0000ff" />
<circle cx="244.5" cy="405.2" r="2.9" fill="#0000ff" />
<circle cx="262.6" cy="390.2" r="2.9" fill="#0000ff" />
<polyline points="400.6,429.6 436.8,415.6" fill="none" stroke="#8585ff" stroke-width="1.3" stroke-linejoin="round" stroke-linecap="round" stroke-dasharray="3,2"/>
<polyline points="436.8,415.6 491.0,389.6" fill="none" stroke="#8585ff" stroke-width="1.3" stroke-linejoin="round" stroke-linecap="round" />
<circle cx="436.7" cy="427.0" r="2.9" fill="#ff5200" />
<circle cx="454.8" cy="389.6" r="2.9" fill="#ff5200" />
<circle cx="472.8" cy="377.0" r="2.9" fill="#ff5200" />
<circle cx="490.9" cy="377.0" r="2.9" fill="#ff5200" />
<circle cx="509.0" cy="389.6" r="2.9" fill="#ff5200" />
<circle cx="436.7" cy="415.6" r="2.9" fill="#0000ff" />
<circle cx="454.8" cy="398.2" r="2.9" fill="#0000ff" />
<circle cx="472.8" cy="398.4" r="2.9" fill="#0000ff" />
<circle cx="490.9" cy="389.6" r="2.9" fill="#0000ff" />
<circle cx="509.0" cy="394.4" r="2.9" fill="#0000ff" />
<clipPath id="cc_a1"><rect x="38.6" y="24.9" width="129.0" height="87.1"/></clipPath>
<clipPath id="cc_a2"><rect x="206.8" y="24.9" width="128.8" height="87.1"/></clipPath>
<clipPath id="cc_b1"><rect x="377.6" y="24.9" width="129.59999999999997" height="87.1"/></clipPath>
<clipPath id="cc_b2"><rect x="549.6" y="24.9" width="129.19999999999993" height="87.1"/></clipPath>
<clipPath id="cc_c1"><rect x="38.8" y="560.5" width="129.60000000000002" height="86.89999999999998"/></clipPath>
<clipPath id="cc_c2"><rect x="206.5" y="560.5" width="130.0" height="86.89999999999998"/></clipPath>
<clipPath id="cc_d1"><rect x="377.8" y="560.7" width="129.2" height="86.89999999999998"/></clipPath>
<clipPath id="cc_d2"><rect x="549.5" y="560.7" width="129.39999999999998" height="86.89999999999998"/></clipPath>
<g clip-path="url(#cc_a1)">
<g fill="#0000ff" fill-opacity="0.4"><circle cx="39.00" cy="26.41" r="2.2"/><circle cx="39.00" cy="26.44" r="2.2"/><circle cx="39.00" cy="26.47" r="2.2"/><circle cx="39.00" cy="26.49" r="2.2"/><circle cx="39.00" cy="26.52" r="2.2"/><circle cx="39.00" cy="26.55" r="2.2"/><circle cx="39.00" cy="26.57" r="2.2"/><circle cx="39.00" cy="26.60" r="2.2"/><circle cx="39.03" cy="26.63" r="2.2"/><circle cx="39.05" cy="26.65" r="2.2"/><circle cx="39.08" cy="26.68" r="2.2"/><circle cx="39.11" cy="26.71" r="2.2"/><circle cx="39.14" cy="26.73" r="2.2"/><circle cx="39.16" cy="26.76" r="2.2"/><circle cx="39.19" cy="26.79" r="2.2"/><circle cx="39.22" cy="26.82" r="2.2"/><circle cx="39.25" cy="26.84" r="2.2"/><circle cx="39.27" cy="26.87" r="2.2"/><circle cx="39.30" cy="26.90" r="2.2"/><circle cx="39.33" cy="26.93" r="2.2"/><circle cx="39.36" cy="26.95" r="2.2"/><circle cx="39.39" cy="26.98" r="2.2"/><circle cx="39.41" cy="27.01" r="2.2"/><circle cx="39.44" cy="27.03" r="2.2"/><circle cx="39.47" cy="27.06" r="2.2"/><circle cx="39.50" cy="27.09" r="2.2"/><circle cx="39.53" cy="27.12" r="2.2"/><circle cx="39.55" cy="27.14" r="2.2"/><circle cx="39.58" cy="27.17" r="2.2"/><circle cx="39.61" cy="27.20" r="2.2"/><circle cx="39.64" cy="27.23" r="2.2"/><circle cx="39.67" cy="27.26" r="2.2"/><circle cx="39.69" cy="27.28" r="2.2"/><circle cx="39.72" cy="27.31" r="2.2"/><circle cx="39.75" cy="27.34" r="2.2"/><circle cx="39.78" cy="27.37" r="2.2"/><circle cx="39.81" cy="27.40" r="2.2"/><circle cx="39.84" cy="27.42" r="2.2"/><circle cx="39.86" cy="27.45" r="2.2"/><circle cx="39.89" cy="27.48" r="2.2"/><circle cx="39.92" cy="27.51" r="2.2"/><circle cx="39.95" cy="27.54" r="2.2"/><circle cx="39.98" cy="27.56" r="2.2"/><circle cx="40.01" cy="27.59" r="2.2"/><circle cx="40.04" cy="27.62" r="2.2"/><circle cx="40.06" cy="27.65" r="2.2"/><circle cx="40.09" cy="27.68" r="2.2"/><circle cx="40.12" cy="27.71" r="2.2"/><circle cx="40.15" cy="27.73" r="2.2"/><circle cx="40.18" cy="27.76" r="2.2"/><circle cx="40.21" cy="27.79" r="2.2"/><circle cx="40.24" cy="27.82" r="2.2"/><circle cx="40.27" cy="27.85" r="2.2"/><circle cx="40.30" cy="27.88" r="2.2"/><circle cx="40.33" cy="27.91" r="2.2"/><circle cx="40.36" cy="27.94" r="2.2"/><circle cx="40.38" cy="27.96" r="2.2"/><circle cx="40.41" cy="27.99" r="2.2"/><circle cx="40.44" cy="28.02" r="2.2"/><circle cx="40.47" cy="28.05" r="2.2"/><circle cx="40.50" cy="28.08" r="2.2"/><circle cx="40.53" cy="28.11" r="2.2"/><circle cx="40.56" cy="28.14" r="2.2"/><circle cx="40.59" cy="28.17" r="2.2"/><circle cx="40.62" cy="28.20" r="2.2"/><circle cx="40.65" cy="28.23" r="2.2"/><circle cx="40.68" cy="28.26" r="2.2"/><circle cx="40.71" cy="28.28" r="2.2"/><circle cx="40.74" cy="28.31" r="2.2"/><circle cx="40.77" cy="28.34" r="2.2"/><circle cx="40.80" cy="28.37" r="2.2"/><circle cx="40.83" cy="28.40" r="2.2"/><circle cx="40.86" cy="28.43" r="2.2"/><circle cx="40.89" cy="28.46" r="2.2"/><circle cx="40.92" cy="28.49" r="2.2"/><circle cx="40.95" cy="28.52" r="2.2"/><circle cx="40.98" cy="28.55" r="2.2"/><circle cx="41.01" cy="28.58" r="2.2"/><circle cx="41.04" cy="28.61" r="2.2"/><circle cx="41.07" cy="28.64" r="2.2"/><circle cx="41.10" cy="28.67" r="2.2"/><circle cx="41.13" cy="28.70" r="2.2"/><circle cx="41.16" cy="28.73" r="2.2"/><circle cx="41.19" cy="28.76" r="2.2"/><circle cx="41.22" cy="28.79" r="2.2"/><circle cx="41.25" cy="28.82" r="2.2"/><circle cx="41.29" cy="28.85" r="2.2"/><circle cx="41.32" cy="28.88" r="2.2"/><circle cx="41.35" cy="28.91" r="2.2"/><circle cx="41.38" cy="28.94" r="2.2"/><circle cx="41.41" cy="28.97" r="2.2"/><circle cx="41.44" cy="29.00" r="2.2"/><circle cx="41.47" cy="29.03" r="2.2"/><circle cx="41.50" cy="29.07" r="2.2"/><circle cx="41.53" cy="29.10" r="2.2"/><circle cx="41.56" cy="29.13" r="2.2"/><circle cx="41.60" cy="29.16" r="2.2"/><circle cx="41.63" cy="29.19" r="2.2"/><circle cx="41.66" cy="29.22" r="2.2"/><circle cx="41.69" cy="29.25" r="2.2"/><circle cx="41.72" cy="29.28" r="2.2"/><circle cx="41.75" cy="29.31" r="2.2"/><circle cx="41.78" cy="29.34" r="2.2"/><circle cx="41.82" cy="29.37" r="2.2"/><circle cx="41.85" cy="29.41" r="2.2"/><circle cx="41.88" cy="29.44" r="2.2"/><circle cx="41.91" cy="29.47" r="2.2"/><circle cx="41.94" cy="29.50" r="2.2"/><circle cx="41.97" cy="29.53" r="2.2"/><circle cx="42.01" cy="29.56" r="2.2"/><circle cx="42.04" cy="29.59" r="2.2"/><circle cx="42.07" cy="29.63" r="2.2"/><circle cx="42.10" cy="29.66" r="2.2"/><circle cx="42.13" cy="29.69" r="2.2"/><circle cx="42.17" cy="29.72" r="2.2"/><circle cx="42.20" cy="29.75" r="2.2"/><circle cx="42.23" cy="29.78" r="2.2"/><circle cx="42.26" cy="29.82" r="2.2"/><circle cx="42.30" cy="29.85" r="2.2"/><circle cx="42.33" cy="29.88" r="2.2"/><circle cx="42.36" cy="29.91" r="2.2"/><circle cx="42.39" cy="29.94" r="2.2"/><circle cx="42.43" cy="29.98" r="2.2"/><circle cx="42.46" cy="30.01" r="2.2"/><circle cx="42.49" cy="30.04" r="2.2"/><circle cx="42.52" cy="30.07" r="2.2"/><circle cx="42.56" cy="30.10" r="2.2"/><circle cx="42.59" cy="30.14" r="2.2"/><circle cx="42.62" cy="30.17" r="2.2"/><circle cx="42.66" cy="30.20" r="2.2"/><circle cx="42.69" cy="30.24" r="2.2"/><circle cx="42.72" cy="30.27" r="2.2"/><circle cx="42.76" cy="30.30" r="2.2"/><circle cx="42.79" cy="30.33" r="2.2"/><circle cx="42.82" cy="30.37" r="2.2"/><circle cx="42.86" cy="30.40" r="2.2"/><circle cx="42.89" cy="30.43" r="2.2"/><circle cx="42.92" cy="30.46" r="2.2"/><circle cx="42.96" cy="30.50" r="2.2"/><circle cx="42.99" cy="30.53" r="2.2"/><circle cx="43.02" cy="30.56" r="2.2"/><circle cx="43.06" cy="30.60" r="2.2"/><circle cx="43.09" cy="30.63" r="2.2"/><circle cx="43.12" cy="30.66" r="2.2"/><circle cx="43.16" cy="30.70" r="2.2"/><circle cx="43.19" cy="30.73" r="2.2"/><circle cx="43.23" cy="30.76" r="2.2"/><circle cx="43.26" cy="30.80" r="2.2"/><circle cx="43.30" cy="30.83" r="2.2"/><circle cx="43.33" cy="30.87" r="2.2"/><circle cx="43.36" cy="30.90" r="2.2"/><circle cx="43.40" cy="30.93" r="2.2"/><circle cx="43.43" cy="30.97" r="2.2"/><circle cx="43.47" cy="31.00" r="2.2"/><circle cx="43.50" cy="31.04" r="2.2"/><circle cx="43.54" cy="31.07" r="2.2"/><circle cx="43.57" cy="31.10" r="2.2"/><circle cx="43.61" cy="31.14" r="2.2"/><circle cx="43.64" cy="31.17" r="2.2"/><circle cx="43.68" cy="31.21" r="2.2"/><circle cx="43.71" cy="31.24" r="2.2"/><circle cx="43.75" cy="31.28" r="2.2"/><circle cx="43.78" cy="31.31" r="2.2"/><circle cx="43.82" cy="31.34" r="2.2"/><circle cx="43.85" cy="31.38" r="2.2"/><circle cx="43.89" cy="31.41" r="2.2"/><circle cx="43.92" cy="31.45" r="2.2"/><circle cx="43.96" cy="31.48" r="2.2"/><circle cx="43.99" cy="31.52" r="2.2"/><circle cx="44.03" cy="31.55" r="2.2"/><circle cx="44.06" cy="31.59" r="2.2"/><circle cx="44.10" cy="31.62" r="2.2"/><circle cx="44.13" cy="31.66" r="2.2"/><circle cx="44.17" cy="31.69" r="2.2"/><circle cx="44.21" cy="31.73" r="2.2"/><circle cx="44.24" cy="31.77" r="2.2"/><circle cx="44.28" cy="31.80" r="2.2"/><circle cx="44.31" cy="31.84" r="2.2"/><circle cx="44.35" cy="31.87" r="2.2"/><circle cx="44.39" cy="31.91" r="2.2"/><circle cx="44.42" cy="31.94" r="2.2"/><circle cx="44.46" cy="31.98" r="2.2"/><circle cx="44.50" cy="32.01" r="2.2"/><circle cx="44.53" cy="32.05" r="2.2"/><circle cx="44.57" cy="32.09" r="2.2"/><circle cx="44.61" cy="32.12" r="2.2"/><circle cx="44.64" cy="32.16" r="2.2"/><circle cx="44.68" cy="32.20" r="2.2"/><circle cx="44.72" cy="32.23" r="2.2"/><circle cx="44.75" cy="32.27" r="2.2"/><circle cx="44.79" cy="32.30" r="2.2"/><circle cx="44.83" cy="32.34" r="2.2"/><circle cx="44.86" cy="32.38" r="2.2"/><circle cx="44.90" cy="32.41" r="2.2"/><circle cx="44.94" cy="32.45" r="2.2"/><circle cx="44.98" cy="32.49" r="2.2"/><circle cx="45.01" cy="32.52" r="2.2"/><circle cx="45.05" cy="32.56" r="2.2"/><circle cx="45.09" cy="32.60" r="2.2"/><circle cx="45.13" cy="32.64" r="2.2"/><circle cx="45.16" cy="32.67" r="2.2"/><circle cx="45.20" cy="32.71" r="2.2"/><circle cx="45.24" cy="32.75" r="2.2"/><circle cx="45.28" cy="32.78" r="2.2"/><circle cx="45.32" cy="32.82" r="2.2"/><circle cx="45.35" cy="32.86" r="2.2"/><circle cx="45.39" cy="32.90" r="2.2"/><circle cx="45.43" cy="32.94" r="2.2"/><circle cx="45.47" cy="32.97" r="2.2"/><circle cx="45.51" cy="33.01" r="2.2"/><circle cx="45.55" cy="33.05" r="2.2"/><circle cx="45.58" cy="33.09" r="2.2"/><circle cx="45.62" cy="33.12" r="2.2"/><circle cx="45.66" cy="33.16" r="2.2"/><circle cx="45.70" cy="33.20" r="2.2"/><circle cx="45.74" cy="33.24" r="2.2"/><circle cx="45.78" cy="33.28" r="2.2"/><circle cx="45.81" cy="33.32" r="2.2"/><circle cx="45.83" cy="33.36" r="2.2"/><circle cx="45.85" cy="33.39" r="2.2"/><circle cx="45.86" cy="33.43" r="2.2"/><circle cx="45.88" cy="33.47" r="2.2"/><circle cx="45.90" cy="33.51" r="2.2"/><circle cx="45.92" cy="33.55" r="2.2"/><circle cx="45.94" cy="33.59" r="2.2"/><circle cx="45.96" cy="33.63" r="2.2"/><circle cx="45.98" cy="33.67" r="2.2"/><circle cx="46.00" cy="33.71" r="2.2"/><circle cx="46.02" cy="33.75" r="2.2"/><circle cx="46.03" cy="33.78" r="2.2"/><circle cx="46.05" cy="33.82" r="2.2"/><circle cx="46.07" cy="33.86" r="2.2"/><circle cx="46.09" cy="33.90" r="2.2"/><circle cx="46.11" cy="33.94" r="2.2"/><circle cx="46.13" cy="33.98" r="2.2"/><circle cx="46.15" cy="34.02" r="2.2"/><circle cx="46.17" cy="34.06" r="2.2"/><circle cx="46.19" cy="34.10" r="2.2"/><circle cx="46.21" cy="34.14" r="2.2"/><circle cx="46.23" cy="34.18" r="2.2"/><circle cx="46.25" cy="34.22" r="2.2"/><circle cx="46.27" cy="34.26" r="2.2"/><circle cx="46.29" cy="34.31" r="2.2"/><circle cx="46.31" cy="34.35" r="2.2"/><circle cx="46.33" cy="34.39" r="2.2"/><circle cx="46.35" cy="34.43" r="2.2"/><circle cx="46.37" cy="34.47" r="2.2"/><circle cx="46.39" cy="34.51" r="2.2"/><circle cx="46.41" cy="34.55" r="2.2"/><circle cx="46.43" cy="34.59" r="2.2"/><circle cx="46.45" cy="34.63" r="2.2"/><circle cx="46.47" cy="34.67" r="2.2"/><circle cx="46.49" cy="34.72" r="2.2"/><circle cx="46.51" cy="34.76" r="2.2"/><circle cx="46.53" cy="34.80" r="2.2"/><circle cx="46.55" cy="34.84" r="2.2"/><circle cx="46.57" cy="34.88" r="2.2"/><circle cx="46.59" cy="34.93" r="2.2"/><circle cx="46.61" cy="34.97" r="2.2"/><circle cx="46.63" cy="35.01" r="2.2"/><circle cx="46.65" cy="35.05" r="2.2"/><circle cx="46.67" cy="35.09" r="2.2"/><circle cx="46.69" cy="35.14" r="2.2"/><circle cx="46.71" cy="35.18" r="2.2"/><circle cx="46.73" cy="35.22" r="2.2"/><circle cx="46.75" cy="35.26" r="2.2"/><circle cx="46.77" cy="35.31" r="2.2"/><circle cx="46.79" cy="35.35" r="2.2"/><circle cx="46.81" cy="35.39" r="2.2"/><circle cx="46.84" cy="35.44" r="2.2"/><circle cx="46.86" cy="35.48" r="2.2"/><circle cx="46.88" cy="35.52" r="2.2"/><circle cx="46.90" cy="35.57" r="2.2"/><circle cx="46.92" cy="35.61" r="2.2"/><circle cx="46.94" cy="35.65" r="2.2"/><circle cx="46.96" cy="35.70" r="2.2"/><circle cx="46.98" cy="35.74" r="2.2"/><circle cx="47.00" cy="35.78" r="2.2"/><circle cx="47.03" cy="35.83" r="2.2"/><circle cx="47.05" cy="35.87" r="2.2"/><circle cx="47.07" cy="35.92" r="2.2"/><circle cx="47.09" cy="35.96" r="2.2"/><circle cx="47.11" cy="36.01" r="2.2"/><circle cx="47.13" cy="36.05" r="2.2"/><circle cx="47.16" cy="36.10" r="2.2"/><circle cx="47.18" cy="36.14" r="2.2"/><circle cx="47.20" cy="36.19" r="2.2"/><circle cx="47.22" cy="36.23" r="2.2"/><circle cx="47.24" cy="36.28" r="2.2"/><circle cx="47.26" cy="36.32" r="2.2"/><circle cx="47.29" cy="36.37" r="2.2"/><circle cx="47.31" cy="36.41" r="2.2"/><circle cx="47.33" cy="36.46" r="2.2"/><circle cx="47.35" cy="36.50" r="2.2"/><circle cx="47.37" cy="36.55" r="2.2"/><circle cx="47.40" cy="36.59" r="2.2"/><circle cx="47.42" cy="36.64" r="2.2"/><circle cx="47.44" cy="36.69" r="2.2"/><circle cx="47.46" cy="36.73" r="2.2"/><circle cx="47.49" cy="36.78" r="2.2"/><circle cx="47.51" cy="36.83" r="2.2"/><circle cx="47.53" cy="36.87" r="2.2"/><circle cx="47.55" cy="36.92" r="2.2"/><circle cx="47.58" cy="36.97" r="2.2"/><circle cx="47.60" cy="37.01" r="2.2"/><circle cx="47.62" cy="37.06" r="2.2"/><circle cx="47.65" cy="37.11" r="2.2"/><circle cx="47.67" cy="37.15" r="2.2"/><circle cx="47.69" cy="37.20" r="2.2"/><circle cx="47.71" cy="37.25" r="2.2"/><circle cx="47.74" cy="37.30" r="2.2"/><circle cx="47.76" cy="37.34" r="2.2"/><circle cx="47.78" cy="37.39" r="2.2"/><circle cx="47.81" cy="37.44" r="2.2"/><circle cx="47.83" cy="37.49" r="2.2"/><circle cx="47.85" cy="37.54" r="2.2"/><circle cx="47.88" cy="37.59" r="2.2"/><circle cx="47.90" cy="37.63" r="2.2"/><circle cx="47.92" cy="37.68" r="2.2"/><circle cx="47.95" cy="37.73" r="2.2"/><circle cx="47.97" cy="37.78" r="2.2"/><circle cx="48.00" cy="37.83" r="2.2"/><circle cx="48.02" cy="37.88" r="2.2"/><circle cx="48.04" cy="37.93" r="2.2"/><circle cx="48.07" cy="37.98" r="2.2"/><circle cx="48.09" cy="38.03" r="2.2"/><circle cx="48.12" cy="38.08" r="2.2"/><circle cx="48.14" cy="38.13" r="2.2"/><circle cx="48.16" cy="38.18" r="2.2"/><circle cx="48.19" cy="38.23" r="2.2"/><circle cx="48.21" cy="38.28" r="2.2"/><circle cx="48.24" cy="38.33" r="2.2"/><circle cx="48.26" cy="38.38" r="2.2"/><circle cx="48.29" cy="38.43" r="2.2"/><circle cx="48.31" cy="38.48" r="2.2"/><circle cx="48.34" cy="38.53" r="2.2"/><circle cx="48.36" cy="38.58" r="2.2"/><circle cx="48.39" cy="38.63" r="2.2"/><circle cx="48.41" cy="38.68" r="2.2"/><circle cx="48.43" cy="38.73" r="2.2"/><circle cx="48.46" cy="38.79" r="2.2"/><circle cx="48.49" cy="38.84" r="2.2"/><circle cx="48.51" cy="38.89" r="2.2"/><circle cx="48.54" cy="38.94" r="2.2"/><circle cx="48.56" cy="38.99" r="2.2"/><circle cx="48.59" cy="39.05" r="2.2"/><circle cx="48.61" cy="39.10" r="2.2"/><circle cx="48.64" cy="39.15" r="2.2"/><circle cx="48.66" cy="39.20" r="2.2"/><circle cx="48.69" cy="39.26" r="2.2"/><circle cx="48.71" cy="39.31" r="2.2"/><circle cx="48.74" cy="39.36" r="2.2"/><circle cx="48.77" cy="39.42" r="2.2"/><circle cx="48.79" cy="39.47" r="2.2"/><circle cx="48.82" cy="39.52" r="2.2"/><circle cx="48.84" cy="39.58" r="2.2"/><circle cx="48.87" cy="39.63" r="2.2"/><circle cx="48.90" cy="39.69" r="2.2"/><circle cx="48.92" cy="39.74" r="2.2"/><circle cx="48.95" cy="39.80" r="2.2"/><circle cx="48.98" cy="39.85" r="2.2"/><circle cx="49.00" cy="39.91" r="2.2"/><circle cx="49.03" cy="39.96" r="2.2"/><circle cx="49.06" cy="40.02" r="2.2"/><circle cx="49.08" cy="40.07" r="2.2"/><circle cx="49.11" cy="40.13" r="2.2"/><circle cx="49.14" cy="40.18" r="2.2"/><circle cx="49.16" cy="40.24" r="2.2"/><circle cx="49.19" cy="40.29" r="2.2"/><circle cx="49.22" cy="40.35" r="2.2"/><circle cx="49.25" cy="40.41" r="2.2"/><circle cx="49.27" cy="40.46" r="2.2"/><circle cx="49.30" cy="40.52" r="2.2"/><circle cx="49.33" cy="40.58" r="2.2"/><circle cx="49.36" cy="40.63" r="2.2"/><circle cx="49.38" cy="40.69" r="2.2"/><circle cx="49.41" cy="40.75" r="2.2"/><circle cx="49.44" cy="40.81" r="2.2"/><circle cx="49.47" cy="40.86" r="2.2"/><circle cx="49.49" cy="40.92" r="2.2"/><circle cx="49.52" cy="40.98" r="2.2"/><circle cx="49.55" cy="41.04" r="2.2"/><circle cx="49.58" cy="41.10" r="2.2"/><circle cx="49.61" cy="41.15" r="2.2"/><circle cx="49.64" cy="41.21" r="2.2"/><circle cx="49.67" cy="41.27" r="2.2"/><circle cx="49.69" cy="41.33" r="2.2"/><circle cx="49.72" cy="41.39" r="2.2"/><circle cx="49.75" cy="41.45" r="2.2"/><circle cx="49.78" cy="41.51" r="2.2"/><circle cx="49.81" cy="41.57" r="2.2"/><circle cx="49.84" cy="41.63" r="2.2"/><circle cx="49.87" cy="41.69" r="2.2"/><circle cx="49.90" cy="41.75" r="2.2"/><circle cx="49.93" cy="41.81" r="2.2"/><circle cx="49.96" cy="41.87" r="2.2"/><circle cx="49.99" cy="41.93" r="2.2"/><circle cx="50.02" cy="42.00" r="2.2"/><circle cx="50.05" cy="42.06" r="2.2"/><circle cx="50.08" cy="42.12" r="2.2"/><circle cx="50.11" cy="42.18" r="2.2"/><circle cx="50.14" cy="42.24" r="2.2"/><circle cx="50.17" cy="42.30" r="2.2"/><circle cx="50.20" cy="42.37" r="2.2"/><circle cx="50.23" cy="42.43" r="2.2"/><circle cx="50.26" cy="42.49" r="2.2"/><circle cx="50.29" cy="42.56" r="2.2"/><circle cx="50.32" cy="42.62" r="2.2"/><circle cx="50.35" cy="42.68" r="2.2"/><circle cx="50.38" cy="42.75" r="2.2"/><circle cx="50.41" cy="42.81" r="2.2"/><circle cx="50.44" cy="42.88" r="2.2"/><circle cx="50.47" cy="42.94" r="2.2"/><circle cx="50.51" cy="43.01" r="2.2"/><circle cx="50.54" cy="43.07" r="2.2"/><circle cx="50.57" cy="43.14" r="2.2"/><circle cx="50.60" cy="43.20" r="2.2"/><circle cx="50.63" cy="43.27" r="2.2"/><circle cx="50.66" cy="43.33" r="2.2"/><circle cx="50.70" cy="43.40" r="2.2"/><circle cx="50.73" cy="43.47" r="2.2"/><circle cx="50.76" cy="43.53" r="2.2"/><circle cx="50.79" cy="43.60" r="2.2"/><circle cx="50.83" cy="43.67" r="2.2"/><circle cx="50.86" cy="43.73" r="2.2"/><circle cx="50.89" cy="43.80" r="2.2"/><circle cx="50.92" cy="43.87" r="2.2"/><circle cx="50.96" cy="43.94" r="2.2"/><circle cx="50.99" cy="44.00" r="2.2"/><circle cx="51.02" cy="44.07" r="2.2"/><circle cx="51.06" cy="44.14" r="2.2"/><circle cx="51.09" cy="44.21" r="2.2"/><circle cx="51.12" cy="44.28" r="2.2"/><circle cx="51.16" cy="44.35" r="2.2"/><circle cx="51.19" cy="44.42" r="2.2"/><circle cx="51.23" cy="44.49" r="2.2"/><circle cx="51.26" cy="44.56" r="2.2"/><circle cx="51.29" cy="44.63" r="2.2"/><circle cx="51.33" cy="44.70" r="2.2"/><circle cx="51.36" cy="44.77" r="2.2"/><circle cx="51.40" cy="44.85" r="2.2"/><circle cx="51.43" cy="44.92" r="2.2"/><circle cx="51.47" cy="44.99" r="2.2"/><circle cx="51.50" cy="45.06" r="2.2"/><circle cx="51.54" cy="45.13" r="2.2"/><circle cx="51.57" cy="45.21" r="2.2"/><circle cx="51.61" cy="45.28" r="2.2"/><circle cx="51.64" cy="45.35" r="2.2"/><circle cx="51.68" cy="45.43" r="2.2"/><circle cx="51.72" cy="45.50" r="2.2"/><circle cx="51.75" cy="45.58" r="2.2"/><circle cx="51.79" cy="45.65" r="2.2"/><circle cx="51.82" cy="45.73" r="2.2"/><circle cx="51.86" cy="45.80" r="2.2"/><circle cx="51.90" cy="45.88" r="2.2"/><circle cx="51.93" cy="45.95" r="2.2"/><circle cx="51.97" cy="46.03" r="2.2"/><circle cx="52.01" cy="46.10" r="2.2"/><circle cx="52.05" cy="46.18" r="2.2"/><circle cx="52.08" cy="46.26" r="2.2"/><circle cx="52.12" cy="46.34" r="2.2"/><circle cx="52.16" cy="46.41" r="2.2"/><circle cx="52.20" cy="46.49" r="2.2"/><circle cx="52.23" cy="46.57" r="2.2"/><circle cx="52.26" cy="46.65" r="2.2"/><circle cx="52.28" cy="46.73" r="2.2"/><circle cx="52.31" cy="46.81" r="2.2"/><circle cx="52.34" cy="46.89" r="2.2"/><circle cx="52.37" cy="46.97" r="2.2"/><circle cx="52.40" cy="47.05" r="2.2"/><circle cx="52.43" cy="47.13" r="2.2"/><circle cx="52.46" cy="47.21" r="2.2"/><circle cx="52.49" cy="47.29" r="2.2"/><circle cx="52.52" cy="47.37" r="2.2"/><circle cx="52.55" cy="47.46" r="2.2"/><circle cx="52.58" cy="47.54" r="2.2"/><circle cx="52.61" cy="47.62" r="2.2"/><circle cx="52.65" cy="47.70" r="2.2"/><circle cx="52.68" cy="47.79" r="2.2"/><circle cx="52.71" cy="47.87" r="2.2"/><circle cx="52.74" cy="47.96" r="2.2"/><circle cx="52.77" cy="48.04" r="2.2"/><circle cx="52.80" cy="48.13" r="2.2"/><circle cx="52.83" cy="48.21" r="2.2"/><circle cx="52.87" cy="48.30" r="2.2"/><circle cx="52.90" cy="48.39" r="2.2"/><circle cx="52.93" cy="48.47" r="2.2"/><circle cx="52.96" cy="48.56" r="2.2"/><circle cx="52.99" cy="48.65" r="2.2"/><circle cx="53.03" cy="48.74" r="2.2"/><circle cx="53.06" cy="48.82" r="2.2"/><circle cx="53.09" cy="48.91" r="2.2"/><circle cx="53.13" cy="49.00" r="2.2"/><circle cx="53.16" cy="49.09" r="2.2"/><circle cx="53.19" cy="49.18" r="2.2"/><circle cx="53.23" cy="49.27" r="2.2"/><circle cx="53.26" cy="49.36" r="2.2"/><circle cx="53.29" cy="49.46" r="2.2"/><circle cx="53.33" cy="49.55" r="2.2"/><circle cx="53.36" cy="49.64" r="2.2"/><circle cx="53.40" cy="49.73" r="2.2"/><circle cx="53.43" cy="49.83" r="2.2"/><circle cx="53.47" cy="49.92" r="2.2"/><circle cx="53.50" cy="50.01" r="2.2"/><circle cx="53.54" cy="50.11" r="2.2"/><circle cx="53.57" cy="50.20" r="2.2"/><circle cx="53.61" cy="50.30" r="2.2"/><circle cx="53.64" cy="50.40" r="2.2"/><circle cx="53.68" cy="50.49" r="2.2"/><circle cx="53.71" cy="50.59" r="2.2"/><circle cx="53.75" cy="50.69" r="2.2"/><circle cx="53.79" cy="50.79" r="2.2"/><circle cx="53.82" cy="50.89" r="2.2"/><circle cx="53.86" cy="50.99" r="2.2"/><circle cx="53.90" cy="51.09" r="2.2"/><circle cx="53.93" cy="51.19" r="2.2"/><circle cx="53.97" cy="51.29" r="2.2"/><circle cx="54.01" cy="51.39" r="2.2"/><circle cx="54.05" cy="51.49" r="2.2"/><circle cx="54.08" cy="51.59" r="2.2"/><circle cx="54.12" cy="51.70" r="2.2"/><circle cx="54.16" cy="51.80" r="2.2"/><circle cx="54.20" cy="51.90" r="2.2"/><circle cx="54.24" cy="52.01" r="2.2"/><circle cx="54.28" cy="52.12" r="2.2"/><circle cx="54.32" cy="52.22" r="2.2"/><circle cx="54.36" cy="52.33" r="2.2"/><circle cx="54.40" cy="52.44" r="2.2"/><circle cx="54.44" cy="52.54" r="2.2"/><circle cx="54.48" cy="52.65" r="2.2"/><circle cx="54.52" cy="52.76" r="2.2"/><circle cx="54.56" cy="52.87" r="2.2"/><circle cx="54.60" cy="52.98" r="2.2"/><circle cx="54.64" cy="53.09" r="2.2"/><circle cx="54.68" cy="53.21" r="2.2"/><circle cx="54.72" cy="53.32" r="2.2"/><circle cx="54.76" cy="53.43" r="2.2"/><circle cx="54.81" cy="53.55" r="2.2"/><circle cx="54.85" cy="53.66" r="2.2"/><circle cx="54.89" cy="53.78" r="2.2"/><circle cx="54.93" cy="53.89" r="2.2"/><circle cx="54.98" cy="54.01" r="2.2"/><circle cx="55.02" cy="54.13" r="2.2"/><circle cx="55.07" cy="54.24" r="2.2"/><circle cx="55.11" cy="54.36" r="2.2"/><circle cx="55.15" cy="54.48" r="2.2"/><circle cx="55.20" cy="54.60" r="2.2"/><circle cx="55.24" cy="54.73" r="2.2"/><circle cx="55.29" cy="54.85" r="2.2"/><circle cx="55.33" cy="54.97" r="2.2"/><circle cx="55.38" cy="55.10" r="2.2"/><circle cx="55.43" cy="55.22" r="2.2"/><circle cx="55.47" cy="55.35" r="2.2"/><circle cx="55.52" cy="55.47" r="2.2"/><circle cx="55.57" cy="55.60" r="2.2"/><circle cx="55.61" cy="55.73" r="2.2"/><circle cx="55.66" cy="55.86" r="2.2"/><circle cx="55.71" cy="55.99" r="2.2"/><circle cx="55.76" cy="56.12" r="2.2"/><circle cx="55.81" cy="56.25" r="2.2"/><circle cx="55.86" cy="56.38" r="2.2"/><circle cx="55.91" cy="56.52" r="2.2"/><circle cx="55.96" cy="56.65" r="2.2"/><circle cx="56.01" cy="56.79" r="2.2"/><circle cx="56.06" cy="56.92" r="2.2"/><circle cx="56.11" cy="57.06" r="2.2"/><circle cx="56.16" cy="57.20" r="2.2"/><circle cx="56.21" cy="57.34" r="2.2"/><circle cx="56.26" cy="57.48" r="2.2"/><circle cx="56.31" cy="57.62" r="2.2"/><circle cx="56.37" cy="57.77" r="2.2"/><circle cx="56.42" cy="57.91" r="2.2"/><circle cx="56.47" cy="58.05" r="2.2"/><circle cx="56.53" cy="58.20" r="2.2"/><circle cx="56.58" cy="58.35" r="2.2"/><circle cx="56.64" cy="58.50" r="2.2"/><circle cx="56.69" cy="58.65" r="2.2"/><circle cx="56.75" cy="58.80" r="2.2"/><circle cx="56.81" cy="58.95" r="2.2"/><circle cx="56.86" cy="59.10" r="2.2"/><circle cx="56.92" cy="59.26" r="2.2"/><circle cx="56.98" cy="59.42" r="2.2"/><circle cx="57.04" cy="59.57" r="2.2"/><circle cx="57.09" cy="59.73" r="2.2"/><circle cx="57.15" cy="59.89" r="2.2"/><circle cx="57.21" cy="60.05" r="2.2"/><circle cx="57.27" cy="60.22" r="2.2"/><circle cx="57.34" cy="60.38" r="2.2"/><circle cx="57.40" cy="60.55" r="2.2"/><circle cx="57.46" cy="60.71" r="2.2"/><circle cx="57.52" cy="60.88" r="2.2"/><circle cx="57.58" cy="61.05" r="2.2"/><circle cx="57.65" cy="61.23" r="2.2"/><circle cx="57.71" cy="61.40" r="2.2"/><circle cx="57.78" cy="61.57" r="2.2"/><circle cx="57.84" cy="61.75" r="2.2"/><circle cx="57.91" cy="61.93" r="2.2"/><circle cx="57.98" cy="62.11" r="2.2"/><circle cx="58.04" cy="62.29" r="2.2"/><circle cx="58.11" cy="62.48" r="2.2"/><circle cx="58.18" cy="62.66" r="2.2"/><circle cx="58.25" cy="62.85" r="2.2"/><circle cx="58.32" cy="63.04" r="2.2"/><circle cx="58.39" cy="63.23" r="2.2"/><circle cx="58.46" cy="63.43" r="2.2"/><circle cx="58.53" cy="63.62" r="2.2"/><circle cx="58.61" cy="63.82" r="2.2"/><circle cx="58.66" cy="64.02" r="2.2"/><circle cx="58.71" cy="64.22" r="2.2"/><circle cx="58.77" cy="64.43" r="2.2"/><circle cx="58.83" cy="64.63" r="2.2"/><circle cx="58.88" cy="64.84" r="2.2"/><circle cx="58.94" cy="65.05" r="2.2"/><circle cx="59.00" cy="65.27" r="2.2"/><circle cx="59.06" cy="65.48" r="2.2"/><circle cx="59.11" cy="65.70" r="2.2"/><circle cx="59.17" cy="65.92" r="2.2"/><circle cx="59.24" cy="66.15" r="2.2"/><circle cx="59.30" cy="66.37" r="2.2"/><circle cx="59.36" cy="66.60" r="2.2"/><circle cx="59.42" cy="66.83" r="2.2"/><circle cx="59.49" cy="67.07" r="2.2"/><circle cx="59.55" cy="67.31" r="2.2"/><circle cx="59.62" cy="67.55" r="2.2"/><circle cx="59.68" cy="67.79" r="2.2"/><circle cx="59.75" cy="68.04" r="2.2"/><circle cx="59.82" cy="68.29" r="2.2"/><circle cx="59.89" cy="68.55" r="2.2"/><circle cx="59.96" cy="68.81" r="2.2"/><circle cx="60.03" cy="69.07" r="2.2"/><circle cx="60.10" cy="69.33" r="2.2"/><circle cx="60.17" cy="69.60" r="2.2"/><circle cx="60.25" cy="69.88" r="2.2"/><circle cx="60.32" cy="70.15" r="2.2"/><circle cx="60.40" cy="70.44" r="2.2"/><circle cx="60.47" cy="70.72" r="2.2"/><circle cx="60.55" cy="71.01" r="2.2"/><circle cx="60.63" cy="71.31" r="2.2"/><circle cx="60.71" cy="71.61" r="2.2"/><circle cx="60.80" cy="71.91" r="2.2"/><circle cx="60.88" cy="72.22" r="2.2"/><circle cx="60.97" cy="72.54" r="2.2"/><circle cx="61.05" cy="72.86" r="2.2"/><circle cx="61.14" cy="73.18" r="2.2"/><circle cx="61.23" cy="73.51" r="2.2"/><circle cx="61.32" cy="73.85" r="2.2"/><circle cx="61.42" cy="74.20" r="2.2"/><circle cx="61.51" cy="74.55" r="2.2"/><circle cx="61.61" cy="74.90" r="2.2"/><circle cx="61.71" cy="75.27" r="2.2"/><circle cx="61.81" cy="75.64" r="2.2"/><circle cx="61.91" cy="76.02" r="2.2"/><circle cx="62.01" cy="76.41" r="2.2"/><circle cx="62.12" cy="76.80" r="2.2"/><circle cx="62.23" cy="77.21" r="2.2"/><circle cx="62.34" cy="77.62" r="2.2"/><circle cx="62.46" cy="78.04" r="2.2"/><circle cx="62.57" cy="78.48" r="2.2"/><circle cx="62.69" cy="78.92" r="2.2"/><circle cx="62.82" cy="79.37" r="2.2"/><circle cx="62.94" cy="79.84" r="2.2"/><circle cx="63.07" cy="80.31" r="2.2"/><circle cx="63.20" cy="80.80" r="2.2"/><circle cx="63.34" cy="81.30" r="2.2"/><circle cx="63.48" cy="81.82" r="2.2"/><circle cx="63.62" cy="82.35" r="2.2"/><circle cx="63.77" cy="82.90" r="2.2"/><circle cx="63.89" cy="83.46" r="2.2"/><circle cx="64.00" cy="84.04" r="2.2"/><circle cx="64.12" cy="84.64" r="2.2"/><circle cx="64.23" cy="85.26" r="2.2"/><circle cx="64.36" cy="85.90" r="2.2"/><circle cx="64.49" cy="86.57" r="2.2"/><circle cx="64.62" cy="87.26" r="2.2"/><circle cx="64.75" cy="87.97" r="2.2"/><circle cx="64.90" cy="88.71" r="2.2"/><circle cx="65.05" cy="89.49" r="2.2"/><circle cx="65.20" cy="90.30" r="2.2"/><circle cx="65.36" cy="91.14" r="2.2"/><circle cx="65.53" cy="92.03" r="2.2"/><circle cx="65.71" cy="92.96" r="2.2"/><circle cx="65.90" cy="93.94" r="2.2"/><circle cx="66.10" cy="94.97" r="2.2"/><circle cx="66.31" cy="96.06" r="2.2"/><circle cx="66.53" cy="97.22" r="2.2"/><circle cx="66.77" cy="98.46" r="2.2"/><circle cx="67.03" cy="99.79" r="2.2"/><circle cx="67.28" cy="101.22" r="2.2"/><circle cx="67.53" cy="102.77" r="2.2"/><circle cx="67.80" cy="104.46" r="2.2"/><circle cx="68.10" cy="106.32" r="2.2"/><circle cx="68.43" cy="108.39" r="2.2"/><circle cx="68.80" cy="110.72" r="2.2"/></g>
<g fill="#ff5200" fill-opacity="0.38"><circle cx="39.00" cy="26.48" r="2.1"/><circle cx="39.12" cy="26.64" r="2.1"/><circle cx="39.57" cy="26.81" r="2.1"/><circle cx="40.03" cy="26.97" r="2.1"/><circle cx="40.49" cy="27.14" r="2.1"/><circle cx="40.96" cy="27.31" r="2.1"/><circle cx="41.42" cy="27.48" r="2.1"/><circle cx="41.90" cy="27.65" r="2.1"/><circle cx="42.38" cy="27.83" r="2.1"/><circle cx="42.86" cy="28.00" r="2.1"/><circle cx="43.34" cy="28.18" r="2.1"/><circle cx="43.84" cy="28.36" r="2.1"/><circle cx="44.33" cy="28.54" r="2.1"/><circle cx="44.63" cy="28.72" r="2.1"/><circle cx="44.82" cy="28.91" r="2.1"/><circle cx="45.02" cy="29.09" r="2.1"/><circle cx="45.22" cy="29.28" r="2.1"/><circle cx="45.42" cy="29.47" r="2.1"/><circle cx="45.62" cy="29.66" r="2.1"/><circle cx="45.83" cy="29.85" r="2.1"/><circle cx="46.04" cy="30.05" r="2.1"/><circle cx="46.25" cy="30.25" r="2.1"/><circle cx="46.46" cy="30.45" r="2.1"/><circle cx="46.67" cy="30.65" r="2.1"/><circle cx="46.89" cy="30.85" r="2.1"/><circle cx="47.11" cy="31.06" r="2.1"/><circle cx="47.33" cy="31.27" r="2.1"/><circle cx="47.55" cy="31.48" r="2.1"/><circle cx="47.78" cy="31.69" r="2.1"/><circle cx="48.01" cy="31.91" r="2.1"/><circle cx="48.24" cy="32.13" r="2.1"/><circle cx="48.48" cy="32.35" r="2.1"/><circle cx="48.71" cy="32.57" r="2.1"/><circle cx="48.95" cy="32.80" r="2.1"/><circle cx="49.20" cy="33.03" r="2.1"/><circle cx="49.44" cy="33.26" r="2.1"/><circle cx="49.69" cy="33.50" r="2.1"/><circle cx="49.95" cy="33.74" r="2.1"/><circle cx="50.20" cy="33.98" r="2.1"/><circle cx="50.46" cy="34.22" r="2.1"/><circle cx="50.73" cy="34.47" r="2.1"/><circle cx="50.99" cy="34.72" r="2.1"/><circle cx="51.26" cy="34.98" r="2.1"/><circle cx="51.52" cy="35.23" r="2.1"/><circle cx="51.66" cy="35.50" r="2.1"/><circle cx="51.80" cy="35.76" r="2.1"/><circle cx="51.94" cy="36.03" r="2.1"/><circle cx="52.09" cy="36.30" r="2.1"/><circle cx="52.24" cy="36.58" r="2.1"/><circle cx="52.39" cy="36.86" r="2.1"/><circle cx="52.54" cy="37.15" r="2.1"/><circle cx="52.70" cy="37.44" r="2.1"/><circle cx="52.85" cy="37.73" r="2.1"/><circle cx="53.01" cy="38.03" r="2.1"/><circle cx="53.18" cy="38.34" r="2.1"/><circle cx="53.34" cy="38.65" r="2.1"/><circle cx="53.51" cy="38.96" r="2.1"/><circle cx="53.68" cy="39.28" r="2.1"/><circle cx="53.85" cy="39.61" r="2.1"/><circle cx="54.03" cy="39.94" r="2.1"/><circle cx="54.21" cy="40.28" r="2.1"/><circle cx="54.40" cy="40.62" r="2.1"/><circle cx="54.58" cy="40.98" r="2.1"/><circle cx="54.77" cy="41.33" r="2.1"/><circle cx="54.97" cy="41.70" r="2.1"/><circle cx="55.17" cy="42.07" r="2.1"/><circle cx="55.37" cy="42.45" r="2.1"/><circle cx="55.58" cy="42.84" r="2.1"/><circle cx="55.79" cy="43.23" r="2.1"/><circle cx="56.00" cy="43.63" r="2.1"/><circle cx="56.22" cy="44.05" r="2.1"/><circle cx="56.45" cy="44.47" r="2.1"/><circle cx="56.68" cy="44.90" r="2.1"/><circle cx="56.92" cy="45.35" r="2.1"/><circle cx="57.13" cy="45.80" r="2.1"/><circle cx="57.33" cy="46.26" r="2.1"/><circle cx="57.54" cy="46.74" r="2.1"/><circle cx="57.76" cy="47.23" r="2.1"/><circle cx="57.98" cy="47.73" r="2.1"/><circle cx="58.20" cy="48.25" r="2.1"/><circle cx="58.44" cy="48.78" r="2.1"/><circle cx="58.68" cy="49.33" r="2.1"/><circle cx="58.92" cy="49.89" r="2.1"/><circle cx="59.18" cy="50.47" r="2.1"/><circle cx="59.44" cy="51.07" r="2.1"/><circle cx="59.71" cy="51.69" r="2.1"/><circle cx="59.99" cy="52.33" r="2.1"/><circle cx="60.28" cy="52.99" r="2.1"/><circle cx="60.58" cy="53.68" r="2.1"/><circle cx="60.90" cy="54.40" r="2.1"/><circle cx="61.22" cy="55.14" r="2.1"/><circle cx="61.56" cy="55.92" r="2.1"/><circle cx="61.91" cy="56.72" r="2.1"/><circle cx="62.28" cy="57.57" r="2.1"/><circle cx="62.66" cy="58.45" r="2.1"/><circle cx="63.07" cy="59.38" r="2.1"/><circle cx="63.49" cy="60.36" r="2.1"/><circle cx="63.94" cy="61.40" r="2.1"/><circle cx="64.39" cy="62.49" r="2.1"/><circle cx="64.85" cy="63.65" r="2.1"/><circle cx="65.34" cy="64.89" r="2.1"/><circle cx="65.89" cy="66.22" r="2.1"/><circle cx="66.50" cy="67.65" r="2.1"/><circle cx="67.16" cy="69.20" r="2.1"/><circle cx="67.88" cy="70.89" r="2.1"/><circle cx="68.89" cy="72.75" r="2.1"/><circle cx="70.44" cy="74.82" r="2.1"/><circle cx="72.09" cy="77.15" r="2.1"/><circle cx="73.84" cy="79.81" r="2.1"/><circle cx="77.59" cy="82.91" r="2.1"/><circle cx="80.32" cy="86.64" r="2.1"/><circle cx="81.13" cy="91.31" r="2.1"/><circle cx="81.32" cy="97.57" r="2.1"/></g>
<path d="M39.00,26.50 C40.17,27.12 43.67,28.37 46.00,30.20 C48.33,32.03 50.92,34.62 53.00,37.50 C55.08,40.38 56.83,43.75 58.50,47.50 C60.17,51.25 61.58,55.42 63.00,60.00 C64.42,64.58 65.83,69.67 67.00,75.00 C68.17,80.33 69.07,85.83 70.00,92.00 C70.93,98.17 72.17,108.67 72.60,112.00" fill="none" stroke="#ff5200" stroke-width="1.2" stroke-linecap="round" />
</g>
<g clip-path="url(#cc_a2)">
<circle cx="209.0" cy="27.6" r="2.2" fill="#0000ff" opacity="0.3"/>
<circle cx="212.5" cy="28.3" r="2.2" fill="#0000ff" opacity="0.3"/>
<circle cx="216.0" cy="29.6" r="2.2" fill="#0000ff" opacity="0.3"/>
<circle cx="219.5" cy="31.0" r="2.2" fill="#0000ff" opacity="0.3"/>
<circle cx="223.0" cy="32.2" r="2.2" fill="#0000ff" opacity="0.3"/>
<circle cx="226.5" cy="33.6" r="2.2" fill="#0000ff" opacity="0.3"/>
<circle cx="230.0" cy="35.6" r="2.2" fill="#0000ff" opacity="0.3"/>
<circle cx="233.0" cy="38.0" r="2.2" fill="#0000ff" opacity="0.3"/>
<circle cx="236.0" cy="41.0" r="2.2" fill="#0000ff" opacity="0.3"/>
<circle cx="239.2" cy="44.6" r="2.2" fill="#0000ff" opacity="0.3"/>
<circle cx="242.0" cy="47.5" r="2.2" fill="#0000ff" opacity="0.3"/>
<circle cx="244.4" cy="49.6" r="2.2" fill="#0000ff" opacity="0.3"/>
<circle cx="246.5" cy="52.0" r="2.2" fill="#0000ff" opacity="0.3"/>
<circle cx="248.4" cy="54.8" r="2.2" fill="#0000ff" opacity="0.3"/>
<circle cx="250.3" cy="58.8" r="2.2" fill="#0000ff" opacity="0.3"/>
<circle cx="252.0" cy="62.4" r="2.2" fill="#0000ff" opacity="0.3"/>
<circle cx="253.6" cy="65.4" r="2.2" fill="#0000ff" opacity="0.3"/>
<circle cx="257.3" cy="70.4" r="2.2" fill="#0000ff" opacity="0.3"/>
<circle cx="264.8" cy="74.6" r="2.2" fill="#0000ff" opacity="0.3"/>
<circle cx="267.4" cy="79.8" r="2.2" fill="#0000ff" opacity="0.3"/>
<circle cx="272.7" cy="87.0" r="2.2" fill="#0000ff" opacity="0.3"/>
<circle cx="277.0" cy="100.2" r="2.2" fill="#0000ff" opacity="0.3"/>
<path d="M207.60,27.30 C209.00,27.67 213.15,28.63 216.00,29.50 C218.85,30.37 222.12,31.25 224.70,32.50 C227.28,33.75 229.32,35.25 231.50,37.00 C233.68,38.75 235.88,41.00 237.80,43.00 C239.72,45.00 241.47,46.80 243.00,49.00 C244.53,51.20 245.75,53.70 247.00,56.20 C248.25,58.70 249.40,60.93 250.50,64.00 C251.60,67.07 252.72,71.43 253.60,74.60 C254.48,77.77 255.13,80.17 255.80,83.00 C256.47,85.83 256.97,88.60 257.60,91.60 C258.23,94.60 258.95,97.60 259.60,101.00 C260.25,104.40 261.18,110.17 261.50,112.00" fill="none" stroke="#0000ff" stroke-width="1.3" stroke-linecap="round" />
<g fill="#ff5200" fill-opacity="0.4"><circle cx="207.50" cy="26.91" r="2.0"/><circle cx="207.81" cy="27.05" r="2.0"/><circle cx="208.66" cy="27.20" r="2.0"/><circle cx="209.51" cy="27.35" r="2.0"/><circle cx="210.37" cy="27.50" r="2.0"/><circle cx="211.23" cy="27.66" r="2.0"/><circle cx="212.11" cy="27.81" r="2.0"/><circle cx="212.99" cy="27.97" r="2.0"/><circle cx="213.87" cy="28.12" r="2.0"/><circle cx="214.77" cy="28.28" r="2.0"/><circle cx="215.67" cy="28.44" r="2.0"/><circle cx="216.58" cy="28.60" r="2.0"/><circle cx="217.50" cy="28.76" r="2.0"/><circle cx="218.43" cy="28.92" r="2.0"/><circle cx="219.36" cy="29.09" r="2.0"/><circle cx="220.26" cy="29.25" r="2.0"/><circle cx="221.09" cy="29.42" r="2.0"/><circle cx="221.92" cy="29.59" r="2.0"/><circle cx="222.75" cy="29.76" r="2.0"/><circle cx="223.60" cy="29.93" r="2.0"/><circle cx="224.45" cy="30.11" r="2.0"/><circle cx="225.31" cy="30.28" r="2.0"/><circle cx="226.18" cy="30.46" r="2.0"/><circle cx="227.06" cy="30.64" r="2.0"/><circle cx="227.95" cy="30.82" r="2.0"/><circle cx="228.84" cy="31.00" r="2.0"/><circle cx="229.75" cy="31.18" r="2.0"/><circle cx="230.66" cy="31.37" r="2.0"/><circle cx="231.43" cy="31.56" r="2.0"/><circle cx="231.85" cy="31.75" r="2.0"/><circle cx="232.28" cy="31.94" r="2.0"/><circle cx="232.71" cy="32.13" r="2.0"/><circle cx="233.15" cy="32.33" r="2.0"/><circle cx="233.59" cy="32.53" r="2.0"/><circle cx="234.04" cy="32.73" r="2.0"/><circle cx="234.49" cy="32.93" r="2.0"/><circle cx="234.95" cy="33.13" r="2.0"/><circle cx="235.41" cy="33.34" r="2.0"/><circle cx="235.87" cy="33.55" r="2.0"/><circle cx="236.34" cy="33.76" r="2.0"/><circle cx="236.82" cy="33.97" r="2.0"/><circle cx="237.30" cy="34.19" r="2.0"/><circle cx="237.79" cy="34.41" r="2.0"/><circle cx="238.18" cy="34.63" r="2.0"/><circle cx="238.49" cy="34.85" r="2.0"/><circle cx="238.81" cy="35.08" r="2.0"/><circle cx="239.13" cy="35.31" r="2.0"/><circle cx="239.45" cy="35.54" r="2.0"/><circle cx="239.78" cy="35.78" r="2.0"/><circle cx="240.11" cy="36.01" r="2.0"/><circle cx="240.44" cy="36.26" r="2.0"/><circle cx="240.78" cy="36.50" r="2.0"/><circle cx="241.13" cy="36.75" r="2.0"/><circle cx="241.48" cy="37.00" r="2.0"/><circle cx="241.83" cy="37.25" r="2.0"/><circle cx="242.19" cy="37.51" r="2.0"/><circle cx="242.56" cy="37.77" r="2.0"/><circle cx="242.92" cy="38.04" r="2.0"/><circle cx="243.30" cy="38.31" r="2.0"/><circle cx="243.68" cy="38.58" r="2.0"/><circle cx="244.07" cy="38.86" r="2.0"/><circle cx="244.46" cy="39.14" r="2.0"/><circle cx="244.87" cy="39.43" r="2.0"/><circle cx="245.29" cy="39.72" r="2.0"/><circle cx="245.71" cy="40.01" r="2.0"/><circle cx="246.14" cy="40.31" r="2.0"/><circle cx="246.58" cy="40.62" r="2.0"/><circle cx="247.02" cy="40.93" r="2.0"/><circle cx="247.48" cy="41.24" r="2.0"/><circle cx="247.94" cy="41.56" r="2.0"/><circle cx="248.40" cy="41.89" r="2.0"/><circle cx="248.88" cy="42.22" r="2.0"/><circle cx="249.37" cy="42.56" r="2.0"/><circle cx="249.86" cy="42.90" r="2.0"/><circle cx="250.31" cy="43.25" r="2.0"/><circle cx="250.75" cy="43.61" r="2.0"/><circle cx="251.20" cy="43.98" r="2.0"/><circle cx="251.65" cy="44.35" r="2.0"/><circle cx="252.12" cy="44.73" r="2.0"/><circle cx="252.59" cy="45.11" r="2.0"/><circle cx="253.07" cy="45.51" r="2.0"/><circle cx="253.57" cy="45.91" r="2.0"/><circle cx="254.08" cy="46.33" r="2.0"/><circle cx="254.59" cy="46.75" r="2.0"/><circle cx="255.09" cy="47.18" r="2.0"/><circle cx="255.54" cy="47.62" r="2.0"/><circle cx="256.00" cy="48.08" r="2.0"/><circle cx="256.48" cy="48.54" r="2.0"/><circle cx="256.97" cy="49.02" r="2.0"/><circle cx="257.47" cy="49.51" r="2.0"/><circle cx="257.99" cy="50.01" r="2.0"/><circle cx="258.52" cy="50.53" r="2.0"/><circle cx="259.04" cy="51.06" r="2.0"/><circle cx="259.40" cy="51.60" r="2.0"/><circle cx="259.77" cy="52.17" r="2.0"/><circle cx="260.15" cy="52.75" r="2.0"/><circle cx="260.55" cy="53.35" r="2.0"/><circle cx="260.95" cy="53.97" r="2.0"/><circle cx="261.37" cy="54.61" r="2.0"/><circle cx="261.73" cy="55.27" r="2.0"/><circle cx="262.05" cy="55.96" r="2.0"/><circle cx="262.39" cy="56.68" r="2.0"/><circle cx="262.75" cy="57.42" r="2.0"/><circle cx="263.12" cy="58.20" r="2.0"/><circle cx="263.50" cy="59.00" r="2.0"/><circle cx="263.75" cy="59.85" r="2.0"/><circle cx="264.01" cy="60.73" r="2.0"/><circle cx="264.29" cy="61.66" r="2.0"/><circle cx="264.58" cy="62.64" r="2.0"/><circle cx="264.89" cy="63.67" r="2.0"/><circle cx="265.21" cy="64.77" r="2.0"/><circle cx="265.58" cy="65.93" r="2.0"/><circle cx="266.02" cy="67.17" r="2.0"/><circle cx="266.48" cy="68.50" r="2.0"/><circle cx="266.98" cy="69.93" r="2.0"/><circle cx="267.32" cy="71.48" r="2.0"/><circle cx="267.69" cy="73.17" r="2.0"/><circle cx="268.23" cy="75.03" r="2.0"/><circle cx="269.34" cy="77.10" r="2.0"/><circle cx="270.54" cy="79.42" r="2.0"/><circle cx="271.73" cy="82.08" r="2.0"/><circle cx="272.75" cy="85.19" r="2.0"/><circle cx="273.78" cy="88.92" r="2.0"/><circle cx="274.40" cy="93.59" r="2.0"/><circle cx="279.17" cy="99.84" r="2.0"/></g>
<path d="M264.00,62.00 C264.42,63.33 265.67,67.00 266.50,70.00 C267.33,73.00 268.17,76.33 269.00,80.00 C269.83,83.67 270.80,88.33 271.50,92.00 C272.20,95.67 272.68,98.67 273.20,102.00 C273.72,105.33 274.37,110.33 274.60,112.00" fill="none" stroke="#ff5200" stroke-width="1.2" stroke-linecap="round" />
</g>
<g clip-path="url(#cc_b1)">
<g fill="#0000ff" fill-opacity="0.38"><circle cx="378.50" cy="27.14" r="1.9"/><circle cx="378.50" cy="27.28" r="1.9"/><circle cx="383.48" cy="27.42" r="1.9"/><circle cx="389.16" cy="27.56" r="1.9"/><circle cx="391.37" cy="27.71" r="1.9"/><circle cx="392.42" cy="27.85" r="1.9"/><circle cx="393.47" cy="27.99" r="1.9"/><circle cx="394.53" cy="28.14" r="1.9"/><circle cx="395.60" cy="28.28" r="1.9"/><circle cx="396.68" cy="28.43" r="1.9"/><circle cx="397.76" cy="28.58" r="1.9"/><circle cx="398.86" cy="28.73" r="1.9"/><circle cx="399.96" cy="28.88" r="1.9"/><circle cx="401.07" cy="29.03" r="1.9"/><circle cx="402.19" cy="29.19" r="1.9"/><circle cx="403.32" cy="29.34" r="1.9"/><circle cx="404.46" cy="29.50" r="1.9"/><circle cx="405.41" cy="29.66" r="1.9"/><circle cx="405.99" cy="29.82" r="1.9"/><circle cx="406.57" cy="29.98" r="1.9"/><circle cx="407.16" cy="30.14" r="1.9"/><circle cx="407.75" cy="30.30" r="1.9"/><circle cx="408.35" cy="30.46" r="1.9"/><circle cx="408.96" cy="30.63" r="1.9"/><circle cx="409.57" cy="30.80" r="1.9"/><circle cx="410.18" cy="30.97" r="1.9"/><circle cx="410.80" cy="31.14" r="1.9"/><circle cx="411.43" cy="31.31" r="1.9"/><circle cx="412.06" cy="31.48" r="1.9"/><circle cx="412.70" cy="31.66" r="1.9"/><circle cx="413.35" cy="31.84" r="1.9"/><circle cx="414.00" cy="32.01" r="1.9"/><circle cx="414.65" cy="32.20" r="1.9"/><circle cx="415.32" cy="32.38" r="1.9"/><circle cx="415.82" cy="32.56" r="1.9"/><circle cx="416.30" cy="32.75" r="1.9"/><circle cx="416.79" cy="32.94" r="1.9"/><circle cx="417.28" cy="33.12" r="1.9"/><circle cx="417.77" cy="33.32" r="1.9"/><circle cx="418.27" cy="33.51" r="1.9"/><circle cx="418.78" cy="33.71" r="1.9"/><circle cx="419.29" cy="33.90" r="1.9"/><circle cx="419.81" cy="34.10" r="1.9"/><circle cx="420.33" cy="34.31" r="1.9"/><circle cx="420.86" cy="34.51" r="1.9"/><circle cx="421.40" cy="34.72" r="1.9"/><circle cx="421.94" cy="34.93" r="1.9"/><circle cx="422.48" cy="35.14" r="1.9"/><circle cx="423.04" cy="35.35" r="1.9"/><circle cx="423.59" cy="35.57" r="1.9"/><circle cx="424.16" cy="35.78" r="1.9"/><circle cx="424.48" cy="36.01" r="1.9"/><circle cx="424.79" cy="36.23" r="1.9"/><circle cx="425.10" cy="36.46" r="1.9"/><circle cx="425.42" cy="36.69" r="1.9"/><circle cx="425.74" cy="36.92" r="1.9"/><circle cx="426.06" cy="37.15" r="1.9"/><circle cx="426.39" cy="37.39" r="1.9"/><circle cx="426.72" cy="37.63" r="1.9"/><circle cx="427.06" cy="37.88" r="1.9"/><circle cx="427.40" cy="38.13" r="1.9"/><circle cx="427.74" cy="38.38" r="1.9"/><circle cx="428.09" cy="38.63" r="1.9"/><circle cx="428.45" cy="38.89" r="1.9"/><circle cx="428.81" cy="39.15" r="1.9"/><circle cx="429.17" cy="39.42" r="1.9"/><circle cx="429.54" cy="39.69" r="1.9"/><circle cx="429.92" cy="39.96" r="1.9"/><circle cx="430.30" cy="40.24" r="1.9"/><circle cx="430.69" cy="40.52" r="1.9"/><circle cx="431.08" cy="40.81" r="1.9"/><circle cx="431.48" cy="41.10" r="1.9"/><circle cx="431.89" cy="41.39" r="1.9"/><circle cx="432.30" cy="41.69" r="1.9"/><circle cx="432.72" cy="42.00" r="1.9"/><circle cx="433.08" cy="42.30" r="1.9"/><circle cx="433.32" cy="42.62" r="1.9"/><circle cx="433.57" cy="42.94" r="1.9"/><circle cx="433.81" cy="43.27" r="1.9"/><circle cx="434.07" cy="43.60" r="1.9"/><circle cx="434.33" cy="43.94" r="1.9"/><circle cx="434.59" cy="44.28" r="1.9"/><circle cx="434.86" cy="44.63" r="1.9"/><circle cx="435.13" cy="44.99" r="1.9"/><circle cx="435.41" cy="45.35" r="1.9"/><circle cx="435.69" cy="45.73" r="1.9"/><circle cx="435.98" cy="46.10" r="1.9"/><circle cx="436.28" cy="46.49" r="1.9"/><circle cx="436.58" cy="46.89" r="1.9"/><circle cx="436.89" cy="47.29" r="1.9"/><circle cx="437.20" cy="47.70" r="1.9"/><circle cx="437.52" cy="48.13" r="1.9"/><circle cx="437.85" cy="48.56" r="1.9"/><circle cx="438.19" cy="49.00" r="1.9"/><circle cx="438.54" cy="49.46" r="1.9"/><circle cx="438.89" cy="49.92" r="1.9"/><circle cx="439.25" cy="50.40" r="1.9"/><circle cx="439.62" cy="50.89" r="1.9"/><circle cx="440.00" cy="51.39" r="1.9"/><circle cx="440.39" cy="51.90" r="1.9"/><circle cx="440.79" cy="52.44" r="1.9"/><circle cx="441.20" cy="52.98" r="1.9"/><circle cx="441.62" cy="53.55" r="1.9"/><circle cx="442.06" cy="54.13" r="1.9"/><circle cx="442.51" cy="54.73" r="1.9"/><circle cx="442.98" cy="55.35" r="1.9"/><circle cx="443.46" cy="55.99" r="1.9"/><circle cx="443.96" cy="56.65" r="1.9"/><circle cx="444.48" cy="57.34" r="1.9"/><circle cx="445.04" cy="58.05" r="1.9"/><circle cx="445.64" cy="58.80" r="1.9"/><circle cx="446.26" cy="59.57" r="1.9"/><circle cx="446.90" cy="60.38" r="1.9"/><circle cx="447.58" cy="61.23" r="1.9"/><circle cx="448.29" cy="62.11" r="1.9"/><circle cx="449.01" cy="63.04" r="1.9"/><circle cx="449.26" cy="64.02" r="1.9"/><circle cx="449.53" cy="65.05" r="1.9"/><circle cx="449.81" cy="66.15" r="1.9"/><circle cx="450.11" cy="67.31" r="1.9"/><circle cx="450.43" cy="68.55" r="1.9"/><circle cx="451.08" cy="69.88" r="1.9"/><circle cx="451.85" cy="71.31" r="1.9"/><circle cx="452.70" cy="72.86" r="1.9"/><circle cx="453.64" cy="74.55" r="1.9"/><circle cx="454.67" cy="76.41" r="1.9"/><circle cx="455.76" cy="78.48" r="1.9"/><circle cx="456.96" cy="80.80" r="1.9"/><circle cx="458.33" cy="83.46" r="1.9"/><circle cx="459.96" cy="86.57" r="1.9"/><circle cx="461.87" cy="90.30" r="1.9"/><circle cx="464.02" cy="94.97" r="1.9"/><circle cx="465.37" cy="101.22" r="1.9"/></g>
<g fill="#ff5200" fill-opacity="0.38"><circle cx="378.50" cy="27.71" r="1.9"/><circle cx="379.99" cy="27.85" r="1.9"/><circle cx="384.35" cy="27.99" r="1.9"/><circle cx="388.74" cy="28.14" r="1.9"/><circle cx="391.12" cy="28.28" r="1.9"/><circle cx="392.01" cy="28.43" r="1.9"/><circle cx="392.92" cy="28.58" r="1.9"/><circle cx="393.83" cy="28.73" r="1.9"/><circle cx="394.75" cy="28.88" r="1.9"/><circle cx="395.68" cy="29.03" r="1.9"/><circle cx="396.61" cy="29.19" r="1.9"/><circle cx="397.55" cy="29.34" r="1.9"/><circle cx="398.50" cy="29.50" r="1.9"/><circle cx="399.46" cy="29.66" r="1.9"/><circle cx="400.43" cy="29.82" r="1.9"/><circle cx="401.40" cy="29.98" r="1.9"/><circle cx="402.39" cy="30.14" r="1.9"/><circle cx="403.38" cy="30.30" r="1.9"/><circle cx="404.38" cy="30.46" r="1.9"/><circle cx="405.29" cy="30.63" r="1.9"/><circle cx="405.80" cy="30.80" r="1.9"/><circle cx="406.30" cy="30.97" r="1.9"/><circle cx="406.81" cy="31.14" r="1.9"/><circle cx="407.33" cy="31.31" r="1.9"/><circle cx="407.85" cy="31.48" r="1.9"/><circle cx="408.38" cy="31.66" r="1.9"/><circle cx="408.91" cy="31.84" r="1.9"/><circle cx="409.44" cy="32.01" r="1.9"/><circle cx="409.99" cy="32.20" r="1.9"/><circle cx="410.53" cy="32.38" r="1.9"/><circle cx="411.08" cy="32.56" r="1.9"/><circle cx="411.64" cy="32.75" r="1.9"/><circle cx="412.21" cy="32.94" r="1.9"/><circle cx="412.77" cy="33.12" r="1.9"/><circle cx="413.35" cy="33.32" r="1.9"/><circle cx="413.93" cy="33.51" r="1.9"/><circle cx="414.52" cy="33.71" r="1.9"/><circle cx="415.11" cy="33.90" r="1.9"/><circle cx="415.64" cy="34.10" r="1.9"/><circle cx="416.11" cy="34.31" r="1.9"/><circle cx="416.58" cy="34.51" r="1.9"/><circle cx="417.06" cy="34.72" r="1.9"/><circle cx="417.54" cy="34.93" r="1.9"/><circle cx="418.03" cy="35.14" r="1.9"/><circle cx="418.53" cy="35.35" r="1.9"/><circle cx="419.03" cy="35.57" r="1.9"/><circle cx="419.53" cy="35.78" r="1.9"/><circle cx="420.05" cy="36.01" r="1.9"/><circle cx="420.56" cy="36.23" r="1.9"/><circle cx="421.09" cy="36.46" r="1.9"/><circle cx="421.62" cy="36.69" r="1.9"/><circle cx="422.16" cy="36.92" r="1.9"/><circle cx="422.70" cy="37.15" r="1.9"/><circle cx="423.26" cy="37.39" r="1.9"/><circle cx="423.81" cy="37.63" r="1.9"/><circle cx="424.29" cy="37.88" r="1.9"/><circle cx="424.58" cy="38.13" r="1.9"/><circle cx="424.87" cy="38.38" r="1.9"/><circle cx="425.17" cy="38.63" r="1.9"/><circle cx="425.47" cy="38.89" r="1.9"/><circle cx="425.77" cy="39.15" r="1.9"/><circle cx="426.08" cy="39.42" r="1.9"/><circle cx="426.40" cy="39.69" r="1.9"/><circle cx="426.71" cy="39.96" r="1.9"/><circle cx="427.04" cy="40.24" r="1.9"/><circle cx="427.37" cy="40.52" r="1.9"/><circle cx="427.70" cy="40.81" r="1.9"/><circle cx="428.04" cy="41.10" r="1.9"/><circle cx="428.38" cy="41.39" r="1.9"/><circle cx="428.73" cy="41.69" r="1.9"/><circle cx="429.08" cy="42.00" r="1.9"/><circle cx="429.44" cy="42.30" r="1.9"/><circle cx="429.81" cy="42.62" r="1.9"/><circle cx="430.18" cy="42.94" r="1.9"/><circle cx="430.56" cy="43.27" r="1.9"/><circle cx="430.95" cy="43.60" r="1.9"/><circle cx="431.34" cy="43.94" r="1.9"/><circle cx="431.74" cy="44.28" r="1.9"/><circle cx="432.09" cy="44.63" r="1.9"/><circle cx="432.34" cy="44.99" r="1.9"/><circle cx="432.59" cy="45.35" r="1.9"/><circle cx="432.85" cy="45.73" r="1.9"/><circle cx="433.12" cy="46.10" r="1.9"/><circle cx="433.39" cy="46.49" r="1.9"/><circle cx="433.66" cy="46.89" r="1.9"/><circle cx="433.94" cy="47.29" r="1.9"/><circle cx="434.23" cy="47.70" r="1.9"/><circle cx="434.53" cy="48.13" r="1.9"/><circle cx="434.83" cy="48.56" r="1.9"/><circle cx="435.13" cy="49.00" r="1.9"/><circle cx="435.45" cy="49.46" r="1.9"/><circle cx="435.77" cy="49.92" r="1.9"/><circle cx="436.11" cy="50.40" r="1.9"/><circle cx="436.45" cy="50.89" r="1.9"/><circle cx="436.80" cy="51.39" r="1.9"/><circle cx="437.16" cy="51.90" r="1.9"/><circle cx="437.52" cy="52.44" r="1.9"/><circle cx="437.88" cy="52.98" r="1.9"/><circle cx="438.25" cy="53.55" r="1.9"/><circle cx="438.63" cy="54.13" r="1.9"/><circle cx="439.02" cy="54.73" r="1.9"/><circle cx="439.43" cy="55.35" r="1.9"/><circle cx="439.85" cy="55.99" r="1.9"/><circle cx="440.28" cy="56.65" r="1.9"/><circle cx="440.73" cy="57.34" r="1.9"/><circle cx="441.20" cy="58.05" r="1.9"/><circle cx="441.69" cy="58.80" r="1.9"/><circle cx="442.19" cy="59.57" r="1.9"/><circle cx="442.72" cy="60.38" r="1.9"/><circle cx="443.42" cy="61.23" r="1.9"/><circle cx="444.18" cy="62.11" r="1.9"/><circle cx="444.97" cy="63.04" r="1.9"/><circle cx="445.81" cy="64.02" r="1.9"/><circle cx="446.69" cy="65.05" r="1.9"/><circle cx="447.75" cy="66.15" r="1.9"/><circle cx="449.75" cy="67.31" r="1.9"/><circle cx="451.85" cy="68.55" r="1.9"/><circle cx="453.25" cy="69.88" r="1.9"/><circle cx="454.77" cy="71.31" r="1.9"/><circle cx="455.68" cy="72.86" r="1.9"/><circle cx="456.04" cy="74.55" r="1.9"/><circle cx="456.44" cy="76.41" r="1.9"/><circle cx="456.88" cy="78.48" r="1.9"/><circle cx="457.78" cy="80.80" r="1.9"/><circle cx="459.72" cy="83.46" r="1.9"/><circle cx="461.64" cy="86.57" r="1.9"/><circle cx="463.63" cy="90.30" r="1.9"/><circle cx="465.32" cy="94.97" r="1.9"/><circle cx="466.22" cy="101.22" r="1.9"/></g>
<path d="M434.00,46.00 C435.03,47.50 438.40,51.83 440.20,55.00 C442.00,58.17 443.33,61.43 444.80,65.00 C446.27,68.57 447.67,71.73 449.00,76.40 C450.33,81.07 451.58,87.07 452.80,93.00 C454.02,98.93 455.72,108.83 456.30,112.00" fill="none" stroke="#ff5200" stroke-width="1.2" stroke-linecap="round" />
<path d="M436.00,46.00 C437.20,47.77 441.23,53.27 443.20,56.60 C445.17,59.93 446.35,62.37 447.80,66.00 C449.25,69.63 450.62,73.73 451.90,78.40 C453.18,83.07 454.33,88.40 455.50,94.00 C456.67,99.60 458.33,109.00 458.90,112.00" fill="none" stroke="#0000ff" stroke-width="1.2" stroke-linecap="round" />
</g>
<g clip-path="url(#cc_b2)">
<circle cx="551.5" cy="27.8" r="2.0" fill="#ff5200" opacity="0.4"/>
<circle cx="554.5" cy="27.8" r="2.0" fill="#ff5200" opacity="0.4"/>
<circle cx="557.5" cy="27.8" r="2.0" fill="#ff5200" opacity="0.4"/>
<circle cx="560.5" cy="27.8" r="2.0" fill="#ff5200" opacity="0.4"/>
<path d="M551.60,28.60 C554.65,28.72 564.42,28.93 569.90,29.30 C575.38,29.67 580.12,29.95 584.50,30.80 C588.88,31.65 592.55,32.95 596.20,34.40 C599.85,35.85 603.23,37.18 606.40,39.50 C609.57,41.82 612.52,44.88 615.20,48.30 C617.88,51.72 620.32,55.62 622.50,60.00 C624.68,64.38 626.60,69.50 628.30,74.60 C630.00,79.70 631.43,84.37 632.70,90.60 C633.97,96.83 635.37,108.43 635.90,112.00" fill="none" stroke="#ff5200" stroke-width="1.3" stroke-linecap="round" />
<circle cx="583.0" cy="28.6" r="2.2" fill="#0000ff" opacity="0.3"/>
<circle cx="595.4" cy="29.3" r="2.2" fill="#0000ff" opacity="0.3"/>
<circle cx="602.3" cy="31.5" r="2.2" fill="#0000ff" opacity="0.3"/>
<circle cx="603.2" cy="33.7" r="2.2" fill="#0000ff" opacity="0.3"/>
<circle cx="606.4" cy="38.1" r="2.2" fill="#0000ff" opacity="0.3"/>
<circle cx="611.5" cy="41.0" r="2.2" fill="#0000ff" opacity="0.3"/>
<circle cx="613.7" cy="44.6" r="2.2" fill="#0000ff" opacity="0.3"/>
<circle cx="613.0" cy="49.0" r="2.2" fill="#0000ff" opacity="0.3"/>
<circle cx="613.4" cy="54.1" r="2.2" fill="#0000ff" opacity="0.3"/>
<circle cx="614.4" cy="61.4" r="2.2" fill="#0000ff" opacity="0.3"/>
<circle cx="623.6" cy="74.3" r="2.2" fill="#0000ff" opacity="0.3"/>
<path d="M580.80,26.40 C582.00,26.77 585.43,27.63 588.00,28.60 C590.57,29.57 593.78,31.05 596.20,32.20 C598.62,33.35 600.55,34.28 602.50,35.50 C604.45,36.72 606.23,37.92 607.90,39.50 C609.57,41.08 611.05,43.05 612.50,45.00 C613.95,46.95 615.27,48.53 616.60,51.20 C617.93,53.87 619.28,57.35 620.50,61.00 C621.72,64.65 623.33,71.08 623.90,73.10" fill="none" stroke="#0000ff" stroke-width="1.4" stroke-linecap="round" />
</g>
<g clip-path="url(#cc_c1)">
<g fill="#0000ff" fill-opacity="0.2"><circle cx="39.50" cy="562.89" r="2.3"/><circle cx="41.55" cy="563.15" r="2.3"/><circle cx="45.22" cy="563.41" r="2.3"/><circle cx="48.95" cy="563.68" r="2.3"/><circle cx="51.11" cy="563.95" r="2.3"/><circle cx="52.03" cy="564.23" r="2.3"/><circle cx="52.96" cy="564.51" r="2.3"/><circle cx="53.91" cy="564.80" r="2.3"/><circle cx="54.87" cy="565.09" r="2.3"/><circle cx="55.85" cy="565.38" r="2.3"/><circle cx="56.84" cy="565.68" r="2.3"/><circle cx="57.85" cy="565.98" r="2.3"/><circle cx="58.48" cy="566.29" r="2.3"/><circle cx="59.10" cy="566.61" r="2.3"/><circle cx="59.73" cy="566.93" r="2.3"/><circle cx="60.37" cy="567.25" r="2.3"/><circle cx="61.02" cy="567.58" r="2.3"/><circle cx="61.69" cy="567.92" r="2.3"/><circle cx="62.37" cy="568.26" r="2.3"/><circle cx="63.06" cy="568.61" r="2.3"/><circle cx="63.76" cy="568.97" r="2.3"/><circle cx="64.48" cy="569.33" r="2.3"/><circle cx="65.22" cy="569.71" r="2.3"/><circle cx="66.47" cy="570.08" r="2.3"/><circle cx="67.76" cy="570.47" r="2.3"/><circle cx="69.07" cy="570.86" r="2.3"/><circle cx="70.40" cy="571.27" r="2.3"/><circle cx="71.77" cy="571.68" r="2.3"/><circle cx="73.17" cy="572.10" r="2.3"/><circle cx="74.60" cy="572.53" r="2.3"/><circle cx="76.07" cy="572.97" r="2.3"/><circle cx="77.57" cy="573.43" r="2.3"/><circle cx="79.10" cy="573.89" r="2.3"/><circle cx="80.07" cy="574.37" r="2.3"/><circle cx="80.55" cy="574.85" r="2.3"/><circle cx="81.06" cy="575.36" r="2.3"/><circle cx="81.57" cy="575.87" r="2.3"/><circle cx="82.10" cy="576.40" r="2.3"/><circle cx="82.65" cy="576.95" r="2.3"/><circle cx="82.93" cy="577.51" r="2.3"/><circle cx="83.19" cy="578.09" r="2.3"/><circle cx="83.45" cy="578.69" r="2.3"/><circle cx="83.73" cy="579.30" r="2.3"/><circle cx="84.01" cy="579.94" r="2.3"/><circle cx="84.31" cy="580.61" r="2.3"/><circle cx="84.62" cy="581.29" r="2.3"/><circle cx="84.93" cy="582.01" r="2.3"/><circle cx="85.26" cy="582.75" r="2.3"/><circle cx="85.62" cy="583.52" r="2.3"/><circle cx="86.43" cy="584.33" r="2.3"/><circle cx="87.76" cy="585.17" r="2.3"/><circle cx="91.17" cy="586.05" r="2.3"/><circle cx="93.24" cy="586.98" r="2.3"/><circle cx="93.92" cy="587.96" r="2.3"/><circle cx="94.64" cy="588.99" r="2.3"/><circle cx="95.40" cy="590.08" r="2.3"/><circle cx="96.14" cy="591.24" r="2.3"/><circle cx="96.83" cy="592.47" r="2.3"/><circle cx="97.57" cy="593.80" r="2.3"/><circle cx="98.37" cy="595.23" r="2.3"/><circle cx="99.32" cy="596.77" r="2.3"/><circle cx="100.46" cy="598.46" r="2.3"/><circle cx="101.71" cy="600.32" r="2.3"/><circle cx="103.33" cy="602.38" r="2.3"/><circle cx="105.46" cy="604.70" r="2.3"/><circle cx="108.70" cy="607.35" r="2.3"/><circle cx="110.70" cy="610.45" r="2.3"/><circle cx="112.32" cy="614.17" r="2.3"/><circle cx="115.28" cy="618.83" r="2.3"/><circle cx="118.44" cy="625.07" r="2.3"/><circle cx="122.30" cy="634.55" r="2.3"/></g>
<circle cx="123.3" cy="644.9" r="2.3" fill="#0000ff" opacity="0.3"/>
<path d="M38.80,564.00 C41.25,564.17 49.10,564.35 53.50,565.00 C57.90,565.65 61.30,566.63 65.20,567.90 C69.10,569.17 73.50,570.60 76.90,572.60 C80.30,574.60 82.93,576.98 85.60,579.90 C88.27,582.82 90.70,585.97 92.90,590.10 C95.10,594.23 97.08,599.58 98.80,604.70 C100.52,609.82 101.92,615.75 103.20,620.80 C104.48,625.85 105.60,630.57 106.50,635.00 C107.40,639.43 108.25,645.33 108.60,647.40" fill="none" stroke="#0000ff" stroke-width="1.3" stroke-linecap="round" />
<circle cx="67.4" cy="563.1" r="2.2" fill="#ff5200" opacity="0.35"/>
<circle cx="78.0" cy="567.9" r="2.2" fill="#ff5200" opacity="0.35"/>
<circle cx="95.9" cy="575.5" r="2.2" fill="#ff5200" opacity="0.35"/>
<circle cx="110.9" cy="587.9" r="2.2" fill="#ff5200" opacity="0.35"/>
<path d="M67.40,563.80 C69.47,564.17 75.78,564.78 79.80,566.00 C83.82,567.22 88.10,569.03 91.50,571.10 C94.90,573.17 97.77,575.83 100.20,578.40 C102.63,580.97 104.35,584.07 106.10,586.50 C107.85,588.93 109.93,591.92 110.70,593.00" fill="none" stroke="#ff5200" stroke-width="1.3" stroke-linecap="round" />
</g>
<g clip-path="url(#cc_c2)">
<circle cx="230.8" cy="563.0" r="2.2" fill="#0000ff" opacity="0.3"/>
<circle cx="238.4" cy="562.7" r="2.2" fill="#0000ff" opacity="0.3"/>
<circle cx="245.8" cy="563.8" r="2.2" fill="#0000ff" opacity="0.3"/>
<circle cx="251.9" cy="567.3" r="2.2" fill="#0000ff" opacity="0.3"/>
<circle cx="253.1" cy="569.0" r="2.2" fill="#0000ff" opacity="0.3"/>
<circle cx="261.2" cy="571.9" r="2.2" fill="#0000ff" opacity="0.3"/>
<circle cx="262.6" cy="574.8" r="2.2" fill="#0000ff" opacity="0.3"/>
<circle cx="267.7" cy="576.7" r="2.2" fill="#0000ff" opacity="0.3"/>
<circle cx="274.3" cy="579.6" r="2.2" fill="#0000ff" opacity="0.3"/>
<circle cx="274.7" cy="580.6" r="2.2" fill="#0000ff" opacity="0.3"/>
<circle cx="286.0" cy="582.5" r="2.2" fill="#0000ff" opacity="0.3"/>
<circle cx="286.4" cy="584.7" r="2.2" fill="#0000ff" opacity="0.3"/>
<circle cx="290.4" cy="587.9" r="2.2" fill="#0000ff" opacity="0.3"/>
<circle cx="290.8" cy="591.3" r="2.2" fill="#0000ff" opacity="0.3"/>
<circle cx="290.8" cy="595.2" r="2.2" fill="#0000ff" opacity="0.3"/>
<circle cx="293.6" cy="600.6" r="2.2" fill="#0000ff" opacity="0.3"/>
<circle cx="303.5" cy="608.1" r="2.2" fill="#0000ff" opacity="0.3"/>
<circle cx="313.7" cy="620.8" r="2.2" fill="#0000ff" opacity="0.3"/>
<circle cx="267.7" cy="565.3" r="2.2" fill="#ff5200" opacity="0.3"/>
<circle cx="272.8" cy="567.5" r="2.2" fill="#ff5200" opacity="0.3"/>
<circle cx="276.5" cy="570.8" r="2.2" fill="#ff5200" opacity="0.3"/>
<circle cx="283.1" cy="572.6" r="2.2" fill="#ff5200" opacity="0.3"/>
<circle cx="286.7" cy="577.7" r="2.2" fill="#ff5200" opacity="0.3"/>
<circle cx="289.6" cy="582.8" r="2.2" fill="#ff5200" opacity="0.3"/>
<circle cx="299.1" cy="593.0" r="2.2" fill="#ff5200" opacity="0.3"/>
<circle cx="310.8" cy="600.6" r="2.2" fill="#ff5200" opacity="0.3"/>
<circle cx="311.5" cy="613.5" r="2.2" fill="#ff5200" opacity="0.3"/>
<path d="M208.00,563.40 C210.83,563.43 219.67,563.53 225.00,563.60 C230.33,563.67 235.07,563.63 240.00,563.80 C244.93,563.97 249.73,564.10 254.60,564.60 C259.47,565.10 265.07,565.72 269.20,566.80 C273.33,567.88 276.23,569.17 279.40,571.10 C282.57,573.03 285.52,575.47 288.20,578.40 C290.88,581.33 293.32,584.80 295.50,588.70 C297.68,592.60 299.48,596.70 301.30,601.80 C303.12,606.90 304.70,611.70 306.40,619.30 C308.10,626.90 310.65,642.72 311.50,647.40" fill="none" stroke="#ff5200" stroke-width="1.3" stroke-linecap="round" />
<path d="M229.70,565.40 C231.42,565.38 235.85,565.12 240.00,565.30 C244.15,565.48 250.22,565.77 254.60,566.50 C258.98,567.23 262.65,567.95 266.30,569.70 C269.95,571.45 273.33,574.08 276.50,577.00 C279.67,579.92 282.62,583.07 285.30,587.20 C287.98,591.33 290.42,595.97 292.60,601.80 C294.78,607.63 296.75,614.60 298.40,622.20 C300.05,629.80 301.82,643.20 302.50,647.40" fill="none" stroke="#0000ff" stroke-width="1.3" stroke-linecap="round" />
</g>
<g clip-path="url(#cc_d1)">
<g fill="#0000ff" fill-opacity="0.3"><circle cx="398.00" cy="563.15" r="2.2"/><circle cx="398.00" cy="563.28" r="2.2"/><circle cx="400.72" cy="563.41" r="2.2"/><circle cx="403.90" cy="563.55" r="2.2"/><circle cx="407.10" cy="563.68" r="2.2"/><circle cx="410.09" cy="563.81" r="2.2"/><circle cx="410.97" cy="563.95" r="2.2"/><circle cx="411.86" cy="564.09" r="2.2"/><circle cx="412.76" cy="564.22" r="2.2"/><circle cx="413.67" cy="564.36" r="2.2"/><circle cx="414.58" cy="564.50" r="2.2"/><circle cx="415.49" cy="564.64" r="2.2"/><circle cx="416.42" cy="564.78" r="2.2"/><circle cx="417.35" cy="564.93" r="2.2"/><circle cx="418.29" cy="565.07" r="2.2"/><circle cx="419.24" cy="565.21" r="2.2"/><circle cx="420.01" cy="565.36" r="2.2"/><circle cx="420.54" cy="565.51" r="2.2"/><circle cx="421.07" cy="565.66" r="2.2"/><circle cx="421.60" cy="565.80" r="2.2"/><circle cx="422.14" cy="565.96" r="2.2"/><circle cx="422.68" cy="566.11" r="2.2"/><circle cx="423.23" cy="566.26" r="2.2"/><circle cx="423.78" cy="566.42" r="2.2"/><circle cx="424.33" cy="566.57" r="2.2"/><circle cx="424.89" cy="566.73" r="2.2"/><circle cx="425.46" cy="566.89" r="2.2"/><circle cx="426.03" cy="567.05" r="2.2"/><circle cx="426.60" cy="567.21" r="2.2"/><circle cx="427.18" cy="567.37" r="2.2"/><circle cx="427.77" cy="567.53" r="2.2"/><circle cx="428.19" cy="567.70" r="2.2"/><circle cx="428.50" cy="567.87" r="2.2"/><circle cx="428.82" cy="568.04" r="2.2"/><circle cx="429.14" cy="568.21" r="2.2"/><circle cx="429.46" cy="568.38" r="2.2"/><circle cx="429.79" cy="568.55" r="2.2"/><circle cx="430.12" cy="568.73" r="2.2"/><circle cx="430.45" cy="568.90" r="2.2"/><circle cx="430.79" cy="569.08" r="2.2"/><circle cx="431.13" cy="569.26" r="2.2"/><circle cx="431.47" cy="569.44" r="2.2"/><circle cx="431.81" cy="569.63" r="2.2"/><circle cx="432.16" cy="569.81" r="2.2"/><circle cx="432.52" cy="570.00" r="2.2"/><circle cx="432.87" cy="570.19" r="2.2"/><circle cx="433.23" cy="570.38" r="2.2"/><circle cx="433.60" cy="570.57" r="2.2"/><circle cx="433.96" cy="570.77" r="2.2"/><circle cx="434.33" cy="570.97" r="2.2"/><circle cx="434.63" cy="571.16" r="2.2"/><circle cx="434.91" cy="571.37" r="2.2"/><circle cx="435.20" cy="571.57" r="2.2"/><circle cx="435.49" cy="571.78" r="2.2"/><circle cx="435.78" cy="571.98" r="2.2"/><circle cx="436.07" cy="572.20" r="2.2"/><circle cx="436.37" cy="572.41" r="2.2"/><circle cx="436.67" cy="572.62" r="2.2"/><circle cx="436.98" cy="572.84" r="2.2"/><circle cx="437.29" cy="573.06" r="2.2"/><circle cx="437.60" cy="573.29" r="2.2"/><circle cx="437.92" cy="573.51" r="2.2"/><circle cx="438.24" cy="573.74" r="2.2"/><circle cx="438.56" cy="573.97" r="2.2"/><circle cx="438.89" cy="574.21" r="2.2"/><circle cx="439.22" cy="574.45" r="2.2"/><circle cx="439.56" cy="574.69" r="2.2"/><circle cx="439.90" cy="574.93" r="2.2"/><circle cx="440.23" cy="575.18" r="2.2"/><circle cx="440.55" cy="575.43" r="2.2"/><circle cx="440.87" cy="575.68" r="2.2"/><circle cx="441.20" cy="575.94" r="2.2"/><circle cx="441.54" cy="576.20" r="2.2"/><circle cx="441.87" cy="576.47" r="2.2"/><circle cx="442.22" cy="576.74" r="2.2"/><circle cx="442.57" cy="577.01" r="2.2"/><circle cx="442.92" cy="577.28" r="2.2"/><circle cx="443.28" cy="577.57" r="2.2"/><circle cx="443.64" cy="577.85" r="2.2"/><circle cx="444.01" cy="578.14" r="2.2"/><circle cx="444.39" cy="578.44" r="2.2"/><circle cx="444.72" cy="578.73" r="2.2"/><circle cx="444.99" cy="579.04" r="2.2"/><circle cx="445.26" cy="579.35" r="2.2"/><circle cx="445.54" cy="579.66" r="2.2"/><circle cx="445.82" cy="579.98" r="2.2"/><circle cx="446.11" cy="580.31" r="2.2"/><circle cx="446.41" cy="580.64" r="2.2"/><circle cx="446.71" cy="580.97" r="2.2"/><circle cx="447.01" cy="581.32" r="2.2"/><circle cx="447.32" cy="581.67" r="2.2"/><circle cx="447.64" cy="582.02" r="2.2"/><circle cx="447.96" cy="582.39" r="2.2"/><circle cx="448.29" cy="582.76" r="2.2"/><circle cx="448.62" cy="583.14" r="2.2"/><circle cx="448.95" cy="583.52" r="2.2"/><circle cx="449.28" cy="583.92" r="2.2"/><circle cx="449.62" cy="584.32" r="2.2"/><circle cx="449.97" cy="584.73" r="2.2"/><circle cx="450.33" cy="585.16" r="2.2"/><circle cx="450.70" cy="585.59" r="2.2"/><circle cx="451.07" cy="586.03" r="2.2"/><circle cx="451.46" cy="586.48" r="2.2"/><circle cx="451.85" cy="586.94" r="2.2"/><circle cx="452.19" cy="587.42" r="2.2"/><circle cx="452.53" cy="587.91" r="2.2"/><circle cx="452.87" cy="588.41" r="2.2"/><circle cx="453.23" cy="588.92" r="2.2"/><circle cx="453.59" cy="589.45" r="2.2"/><circle cx="453.97" cy="590.00" r="2.2"/><circle cx="454.35" cy="590.56" r="2.2"/><circle cx="454.75" cy="591.14" r="2.2"/><circle cx="455.15" cy="591.74" r="2.2"/><circle cx="455.53" cy="592.36" r="2.2"/><circle cx="455.93" cy="593.00" r="2.2"/><circle cx="456.34" cy="593.66" r="2.2"/><circle cx="456.77" cy="594.35" r="2.2"/><circle cx="457.22" cy="595.06" r="2.2"/><circle cx="457.68" cy="595.80" r="2.2"/><circle cx="458.19" cy="596.57" r="2.2"/><circle cx="458.73" cy="597.38" r="2.2"/><circle cx="459.30" cy="598.22" r="2.2"/><circle cx="459.90" cy="599.11" r="2.2"/><circle cx="460.52" cy="600.03" r="2.2"/><circle cx="461.17" cy="601.01" r="2.2"/><circle cx="461.85" cy="602.04" r="2.2"/><circle cx="462.57" cy="603.13" r="2.2"/><circle cx="463.33" cy="604.29" r="2.2"/><circle cx="464.12" cy="605.53" r="2.2"/><circle cx="464.96" cy="606.85" r="2.2"/><circle cx="465.86" cy="608.28" r="2.2"/><circle cx="466.76" cy="609.83" r="2.2"/><circle cx="467.72" cy="611.51" r="2.2"/><circle cx="469.14" cy="613.37" r="2.2"/><circle cx="470.78" cy="615.43" r="2.2"/><circle cx="472.30" cy="617.75" r="2.2"/><circle cx="474.52" cy="620.41" r="2.2"/><circle cx="477.15" cy="623.51" r="2.2"/><circle cx="480.07" cy="627.23" r="2.2"/><circle cx="480.90" cy="631.89" r="2.2"/><circle cx="481.10" cy="638.13" r="2.2"/></g>
<g fill="#ff5200" fill-opacity="0.3"><circle cx="380.00" cy="563.31" r="2.1"/><circle cx="401.02" cy="563.65" r="2.1"/><circle cx="408.51" cy="563.98" r="2.1"/><circle cx="416.14" cy="564.33" r="2.1"/><circle cx="421.41" cy="564.68" r="2.1"/><circle cx="424.26" cy="565.03" r="2.1"/><circle cx="427.17" cy="565.40" r="2.1"/><circle cx="430.14" cy="565.77" r="2.1"/><circle cx="433.17" cy="566.15" r="2.1"/><circle cx="436.12" cy="566.53" r="2.1"/><circle cx="437.54" cy="566.93" r="2.1"/><circle cx="438.99" cy="567.33" r="2.1"/><circle cx="440.47" cy="567.74" r="2.1"/><circle cx="441.99" cy="568.16" r="2.1"/><circle cx="443.54" cy="568.59" r="2.1"/><circle cx="445.05" cy="569.04" r="2.1"/><circle cx="445.71" cy="569.49" r="2.1"/><circle cx="446.38" cy="569.95" r="2.1"/><circle cx="447.07" cy="570.43" r="2.1"/><circle cx="447.77" cy="570.92" r="2.1"/><circle cx="448.50" cy="571.42" r="2.1"/><circle cx="449.25" cy="571.93" r="2.1"/><circle cx="450.01" cy="572.46" r="2.1"/><circle cx="450.80" cy="573.01" r="2.1"/><circle cx="451.62" cy="573.57" r="2.1"/><circle cx="452.46" cy="574.15" r="2.1"/><circle cx="453.32" cy="574.75" r="2.1"/><circle cx="453.80" cy="575.37" r="2.1"/><circle cx="454.25" cy="576.01" r="2.1"/><circle cx="454.71" cy="576.67" r="2.1"/><circle cx="455.20" cy="577.35" r="2.1"/><circle cx="455.70" cy="578.07" r="2.1"/><circle cx="456.22" cy="578.81" r="2.1"/><circle cx="456.77" cy="579.58" r="2.1"/><circle cx="457.35" cy="580.39" r="2.1"/><circle cx="457.95" cy="581.23" r="2.1"/><circle cx="458.57" cy="582.12" r="2.1"/><circle cx="459.12" cy="583.04" r="2.1"/><circle cx="459.70" cy="584.02" r="2.1"/><circle cx="460.31" cy="585.05" r="2.1"/><circle cx="461.21" cy="586.14" r="2.1"/><circle cx="462.56" cy="587.30" r="2.1"/><circle cx="464.00" cy="588.54" r="2.1"/><circle cx="465.38" cy="589.86" r="2.1"/><circle cx="466.57" cy="591.29" r="2.1"/><circle cx="467.86" cy="592.84" r="2.1"/><circle cx="469.47" cy="594.52" r="2.1"/><circle cx="471.16" cy="596.38" r="2.1"/><circle cx="472.55" cy="598.44" r="2.1"/><circle cx="474.26" cy="600.76" r="2.1"/><circle cx="476.92" cy="603.42" r="2.1"/><circle cx="479.71" cy="606.51" r="2.1"/><circle cx="482.74" cy="610.23" r="2.1"/><circle cx="484.49" cy="614.90" r="2.1"/><circle cx="486.63" cy="621.14" r="2.1"/><circle cx="489.42" cy="630.61" r="2.1"/></g>
<path d="M379.60,564.60 C383.87,564.60 397.77,564.23 405.20,564.60 C412.63,564.97 418.60,565.95 424.20,566.80 C429.80,567.65 434.42,568.37 438.80,569.70 C443.18,571.03 447.10,572.37 450.50,574.80 C453.90,577.23 456.53,580.53 459.20,584.30 C461.87,588.07 464.30,592.78 466.50,597.40 C468.70,602.02 470.82,607.37 472.40,612.00 C473.98,616.63 474.97,621.20 476.00,625.20 C477.03,629.20 477.93,632.27 478.60,636.00 C479.27,639.73 479.77,645.67 480.00,647.60" fill="none" stroke="#ff5200" stroke-width="1.3" stroke-linecap="round" />
<path d="M397.90,563.10 C401.55,563.58 413.72,564.53 419.80,566.00 C425.88,567.47 430.27,569.83 434.40,571.90 C438.53,573.97 441.68,575.85 444.60,578.40 C447.52,580.95 449.70,583.55 451.90,587.20 C454.10,590.85 455.85,594.95 457.80,600.30 C459.75,605.65 461.78,611.42 463.60,619.30 C465.42,627.18 467.85,642.88 468.70,647.60" fill="none" stroke="#0000ff" stroke-width="1.3" stroke-linecap="round" />
</g>
<g clip-path="url(#cc_d2)">
<circle cx="554.6" cy="564.1" r="2.1" fill="#ff5200" opacity="0.3"/>
<circle cx="582.3" cy="565.3" r="2.1" fill="#ff5200" opacity="0.3"/>
<circle cx="604.2" cy="566.8" r="2.1" fill="#ff5200" opacity="0.3"/>
<circle cx="606.4" cy="568.2" r="2.1" fill="#ff5200" opacity="0.3"/>
<circle cx="610.8" cy="572.6" r="2.1" fill="#ff5200" opacity="0.3"/>
<circle cx="616.6" cy="577.0" r="2.1" fill="#ff5200" opacity="0.3"/>
<circle cx="625.4" cy="582.1" r="2.1" fill="#ff5200" opacity="0.3"/>
<circle cx="627.6" cy="585.0" r="2.1" fill="#ff5200" opacity="0.3"/>
<circle cx="630.5" cy="587.2" r="2.1" fill="#ff5200" opacity="0.3"/>
<circle cx="631.2" cy="590.8" r="2.1" fill="#ff5200" opacity="0.3"/>
<circle cx="634.1" cy="594.5" r="2.1" fill="#ff5200" opacity="0.3"/>
<circle cx="638.5" cy="600.3" r="2.1" fill="#ff5200" opacity="0.3"/>
<circle cx="642.2" cy="607.6" r="2.1" fill="#ff5200" opacity="0.3"/>
<circle cx="643.2" cy="620.5" r="2.1" fill="#ff5200" opacity="0.3"/>
<circle cx="600.3" cy="565.0" r="2.1" fill="#0000ff" opacity="0.3"/>
<circle cx="601.7" cy="569.4" r="2.1" fill="#0000ff" opacity="0.3"/>
<circle cx="609.3" cy="571.9" r="2.1" fill="#0000ff" opacity="0.3"/>
<circle cx="616.6" cy="578.1" r="2.1" fill="#0000ff" opacity="0.3"/>
<circle cx="644.4" cy="587.2" r="2.1" fill="#0000ff" opacity="0.3"/>
<circle cx="649.2" cy="594.6" r="2.1" fill="#0000ff" opacity="0.3"/>
<circle cx="651.9" cy="607.6" r="2.1" fill="#0000ff" opacity="0.3"/>
<path d="M562.60,563.10 C566.25,563.27 578.42,563.48 584.50,564.10 C590.58,564.72 594.48,565.38 599.10,566.80 C603.72,568.22 608.30,569.93 612.20,572.60 C616.10,575.27 619.57,578.90 622.50,582.80 C625.43,586.70 627.62,590.88 629.80,596.00 C631.98,601.12 633.98,607.83 635.60,613.50 C637.22,619.17 638.40,624.32 639.50,630.00 C640.60,635.68 641.75,644.67 642.20,647.60" fill="none" stroke="#0000ff" stroke-width="1.3" stroke-linecap="round" />
<path d="M552.40,563.80 C556.53,563.93 569.90,564.10 577.20,564.60 C584.50,565.10 590.85,565.72 596.20,566.80 C601.55,567.88 605.42,569.17 609.30,571.10 C613.18,573.03 616.33,575.23 619.50,578.40 C622.67,581.57 625.62,585.47 628.30,590.10 C630.98,594.73 633.65,601.22 635.60,606.20 C637.55,611.18 638.78,615.62 640.00,620.00 C641.22,624.38 642.42,630.42 642.90,632.50" fill="none" stroke="#ff5200" stroke-width="1.3" stroke-linecap="round" />
</g>
<line x1="55.35" y1="712.30" x2="204.20" y2="712.30" stroke="#888" stroke-width="1" />
<line x1="204.20" y1="712.30" x2="204.20" y2="789.70" stroke="#888" stroke-width="1" />
<line x1="55.35" y1="712.30" x2="55.35" y2="789.70" stroke="#888" stroke-width="1" />
<line x1="55.35" y1="789.70" x2="204.20" y2="789.70" stroke="#9a9a9a" stroke-width="1" />
<line x1="50.15" y1="789.70" x2="55.35" y2="789.70" stroke="#777" stroke-width="1" />
<text x="47.85" y="793.70" font-size="11.4" text-anchor="end" font-weight="normal" fill="#000" >0</text>
<line x1="50.15" y1="770.35" x2="55.35" y2="770.35" stroke="#777" stroke-width="1" />
<line x1="50.15" y1="751.00" x2="55.35" y2="751.00" stroke="#777" stroke-width="1" />
<text x="47.85" y="755.00" font-size="11.4" text-anchor="end" font-weight="normal" fill="#000" >0.10</text>
<line x1="50.15" y1="731.65" x2="55.35" y2="731.65" stroke="#777" stroke-width="1" />
<line x1="50.15" y1="712.30" x2="55.35" y2="712.30" stroke="#777" stroke-width="1" />
<text x="47.85" y="716.30" font-size="11.4" text-anchor="end" font-weight="normal" fill="#000" >0.20</text>
<line x1="55.35" y1="790.20" x2="55.35" y2="797.30" stroke="#666" stroke-width="1" />
<line x1="59.60" y1="790.20" x2="59.60" y2="794.40" stroke="#555" stroke-width="1" />
<line x1="63.86" y1="790.20" x2="63.86" y2="794.40" stroke="#555" stroke-width="1" />
<line x1="68.11" y1="790.20" x2="68.11" y2="794.40" stroke="#555" stroke-width="1" />
<line x1="72.36" y1="790.20" x2="72.36" y2="794.40" stroke="#555" stroke-width="1" />
<line x1="76.61" y1="790.20" x2="76.61" y2="797.30" stroke="#666" stroke-width="1" />
<line x1="80.87" y1="790.20" x2="80.87" y2="794.40" stroke="#555" stroke-width="1" />
<line x1="85.12" y1="790.20" x2="85.12" y2="794.40" stroke="#555" stroke-width="1" />
<line x1="89.37" y1="790.20" x2="89.37" y2="794.40" stroke="#555" stroke-width="1" />
<line x1="93.63" y1="790.20" x2="93.63" y2="794.40" stroke="#555" stroke-width="1" />
<line x1="97.88" y1="790.20" x2="97.88" y2="797.30" stroke="#666" stroke-width="1" />
<line x1="102.13" y1="790.20" x2="102.13" y2="794.40" stroke="#555" stroke-width="1" />
<line x1="106.38" y1="790.20" x2="106.38" y2="794.40" stroke="#555" stroke-width="1" />
<line x1="110.64" y1="790.20" x2="110.64" y2="794.40" stroke="#555" stroke-width="1" />
<line x1="114.89" y1="790.20" x2="114.89" y2="794.40" stroke="#555" stroke-width="1" />
<line x1="119.14" y1="790.20" x2="119.14" y2="797.30" stroke="#666" stroke-width="1" />
<line x1="123.40" y1="790.20" x2="123.40" y2="794.40" stroke="#555" stroke-width="1" />
<line x1="127.65" y1="790.20" x2="127.65" y2="794.40" stroke="#555" stroke-width="1" />
<line x1="131.90" y1="790.20" x2="131.90" y2="794.40" stroke="#555" stroke-width="1" />
<line x1="136.15" y1="790.20" x2="136.15" y2="794.40" stroke="#555" stroke-width="1" />
<line x1="140.41" y1="790.20" x2="140.41" y2="797.30" stroke="#666" stroke-width="1" />
<line x1="144.66" y1="790.20" x2="144.66" y2="794.40" stroke="#555" stroke-width="1" />
<line x1="148.91" y1="790.20" x2="148.91" y2="794.40" stroke="#555" stroke-width="1" />
<line x1="153.17" y1="790.20" x2="153.17" y2="794.40" stroke="#555" stroke-width="1" />
<line x1="157.42" y1="790.20" x2="157.42" y2="794.40" stroke="#555" stroke-width="1" />
<line x1="161.67" y1="790.20" x2="161.67" y2="797.30" stroke="#666" stroke-width="1" />
<line x1="165.92" y1="790.20" x2="165.92" y2="794.40" stroke="#555" stroke-width="1" />
<line x1="170.18" y1="790.20" x2="170.18" y2="794.40" stroke="#555" stroke-width="1" />
<line x1="174.43" y1="790.20" x2="174.43" y2="794.40" stroke="#555" stroke-width="1" />
<line x1="178.68" y1="790.20" x2="178.68" y2="794.40" stroke="#555" stroke-width="1" />
<line x1="182.94" y1="790.20" x2="182.94" y2="797.30" stroke="#666" stroke-width="1" />
<line x1="187.19" y1="790.20" x2="187.19" y2="794.40" stroke="#555" stroke-width="1" />
<line x1="191.44" y1="790.20" x2="191.44" y2="794.40" stroke="#555" stroke-width="1" />
<line x1="195.69" y1="790.20" x2="195.69" y2="794.40" stroke="#555" stroke-width="1" />
<line x1="199.95" y1="790.20" x2="199.95" y2="794.40" stroke="#555" stroke-width="1" />
<line x1="204.20" y1="790.20" x2="204.20" y2="797.30" stroke="#666" stroke-width="1" />
<text x="55.35" y="808.80" font-size="11.4" text-anchor="middle" font-weight="normal" fill="#000" >20</text>
<text x="76.61" y="808.80" font-size="11.4" text-anchor="middle" font-weight="normal" fill="#000" >15</text>
<text x="97.88" y="808.80" font-size="11.4" text-anchor="middle" font-weight="normal" fill="#000" >10</text>
<text x="119.14" y="808.80" font-size="11.4" text-anchor="middle" font-weight="normal" fill="#000" >5</text>
<text x="140.41" y="808.80" font-size="11.4" text-anchor="middle" font-weight="normal" fill="#000" >0</text>
<text x="161.67" y="808.80" font-size="11.4" text-anchor="middle" font-weight="normal" fill="#000" >5</text>
<text x="182.94" y="808.80" font-size="11.4" text-anchor="middle" font-weight="normal" fill="#000" >10</text>
<text x="204.20" y="808.80" font-size="11.4" text-anchor="middle" font-weight="normal" fill="#000" >15</text>
<text transform="translate(19.05,751.60) rotate(-90)" font-size="13" text-anchor="middle" font-weight="normal" >Frequency</text>
<text x="129.47" y="708.50" font-size="13.8" text-anchor="middle" font-weight="normal" fill="#000" style="stroke-width:0.42px">Amplitude in superstall</text>
<text x="62.95" y="727.40" font-size="11.2" text-anchor="start" font-weight="normal" fill="#000" style="stroke-width:0.5px">ATP</text>
<line x1="276.60" y1="712.50" x2="425.40" y2="712.50" stroke="#888" stroke-width="1" />
<line x1="425.40" y1="712.50" x2="425.40" y2="790.00" stroke="#888" stroke-width="1" />
<line x1="276.60" y1="712.50" x2="276.60" y2="790.00" stroke="#888" stroke-width="1" />
<line x1="276.60" y1="790.00" x2="425.40" y2="790.00" stroke="#9a9a9a" stroke-width="1" />
<line x1="271.40" y1="790.00" x2="276.60" y2="790.00" stroke="#777" stroke-width="1" />
<text x="269.10" y="794.00" font-size="11.4" text-anchor="end" font-weight="normal" fill="#000" >0</text>
<line x1="271.40" y1="770.62" x2="276.60" y2="770.62" stroke="#777" stroke-width="1" />
<line x1="271.40" y1="751.25" x2="276.60" y2="751.25" stroke="#777" stroke-width="1" />
<text x="269.10" y="755.25" font-size="11.4" text-anchor="end" font-weight="normal" fill="#000" >0.10</text>
<line x1="271.40" y1="731.88" x2="276.60" y2="731.88" stroke="#777" stroke-width="1" />
<line x1="271.40" y1="712.50" x2="276.60" y2="712.50" stroke="#777" stroke-width="1" />
<text x="269.10" y="716.50" font-size="11.4" text-anchor="end" font-weight="normal" fill="#000" >0.20</text>
<line x1="276.60" y1="790.50" x2="276.60" y2="797.60" stroke="#666" stroke-width="1" />
<line x1="280.85" y1="790.50" x2="280.85" y2="794.70" stroke="#555" stroke-width="1" />
<line x1="285.10" y1="790.50" x2="285.10" y2="794.70" stroke="#555" stroke-width="1" />
<line x1="289.35" y1="790.50" x2="289.35" y2="794.70" stroke="#555" stroke-width="1" />
<line x1="293.61" y1="790.50" x2="293.61" y2="794.70" stroke="#555" stroke-width="1" />
<line x1="297.86" y1="790.50" x2="297.86" y2="797.60" stroke="#666" stroke-width="1" />
<line x1="302.11" y1="790.50" x2="302.11" y2="794.70" stroke="#555" stroke-width="1" />
<line x1="306.36" y1="790.50" x2="306.36" y2="794.70" stroke="#555" stroke-width="1" />
<line x1="310.61" y1="790.50" x2="310.61" y2="794.70" stroke="#555" stroke-width="1" />
<line x1="314.86" y1="790.50" x2="314.86" y2="794.70" stroke="#555" stroke-width="1" />
<line x1="319.11" y1="790.50" x2="319.11" y2="797.60" stroke="#666" stroke-width="1" />
<line x1="323.37" y1="790.50" x2="323.37" y2="794.70" stroke="#555" stroke-width="1" />
<line x1="327.62" y1="790.50" x2="327.62" y2="794.70" stroke="#555" stroke-width="1" />
<line x1="331.87" y1="790.50" x2="331.87" y2="794.70" stroke="#555" stroke-width="1" />
<line x1="336.12" y1="790.50" x2="336.12" y2="794.70" stroke="#555" stroke-width="1" />
<line x1="340.37" y1="790.50" x2="340.37" y2="797.60" stroke="#666" stroke-width="1" />
<line x1="344.62" y1="790.50" x2="344.62" y2="794.70" stroke="#555" stroke-width="1" />
<line x1="348.87" y1="790.50" x2="348.87" y2="794.70" stroke="#555" stroke-width="1" />
<line x1="353.13" y1="790.50" x2="353.13" y2="794.70" stroke="#555" stroke-width="1" />
<line x1="357.38" y1="790.50" x2="357.38" y2="794.70" stroke="#555" stroke-width="1" />
<line x1="361.63" y1="790.50" x2="361.63" y2="797.60" stroke="#666" stroke-width="1" />
<line x1="365.88" y1="790.50" x2="365.88" y2="794.70" stroke="#555" stroke-width="1" />
<line x1="370.13" y1="790.50" x2="370.13" y2="794.70" stroke="#555" stroke-width="1" />
<line x1="374.38" y1="790.50" x2="374.38" y2="794.70" stroke="#555" stroke-width="1" />
<line x1="378.63" y1="790.50" x2="378.63" y2="794.70" stroke="#555" stroke-width="1" />
<line x1="382.89" y1="790.50" x2="382.89" y2="797.60" stroke="#666" stroke-width="1" />
<line x1="387.14" y1="790.50" x2="387.14" y2="794.70" stroke="#555" stroke-width="1" />
<line x1="391.39" y1="790.50" x2="391.39" y2="794.70" stroke="#555" stroke-width="1" />
<line x1="395.64" y1="790.50" x2="395.64" y2="794.70" stroke="#555" stroke-width="1" />
<line x1="399.89" y1="790.50" x2="399.89" y2="794.70" stroke="#555" stroke-width="1" />
<line x1="404.14" y1="790.50" x2="404.14" y2="797.60" stroke="#666" stroke-width="1" />
<line x1="408.39" y1="790.50" x2="408.39" y2="794.70" stroke="#555" stroke-width="1" />
<line x1="412.65" y1="790.50" x2="412.65" y2="794.70" stroke="#555" stroke-width="1" />
<line x1="416.90" y1="790.50" x2="416.90" y2="794.70" stroke="#555" stroke-width="1" />
<line x1="421.15" y1="790.50" x2="421.15" y2="794.70" stroke="#555" stroke-width="1" />
<line x1="425.40" y1="790.50" x2="425.40" y2="797.60" stroke="#666" stroke-width="1" />
<text x="276.60" y="809.10" font-size="11.4" text-anchor="middle" font-weight="normal" fill="#000" >20</text>
<text x="297.86" y="809.10" font-size="11.4" text-anchor="middle" font-weight="normal" fill="#000" >15</text>
<text x="319.11" y="809.10" font-size="11.4" text-anchor="middle" font-weight="normal" fill="#000" >10</text>
<text x="340.37" y="809.10" font-size="11.4" text-anchor="middle" font-weight="normal" fill="#000" >5</text>
<text x="361.63" y="809.10" font-size="11.4" text-anchor="middle" font-weight="normal" fill="#000" >0</text>
<text x="382.89" y="809.10" font-size="11.4" text-anchor="middle" font-weight="normal" fill="#000" >5</text>
<text x="404.14" y="809.10" font-size="11.4" text-anchor="middle" font-weight="normal" fill="#000" >10</text>
<text x="425.40" y="809.10" font-size="11.4" text-anchor="middle" font-weight="normal" fill="#000" >15</text>
<text transform="translate(240.30,751.85) rotate(-90)" font-size="13" text-anchor="middle" font-weight="normal" >Frequency</text>
<text x="350.70" y="708.70" font-size="13.8" text-anchor="middle" font-weight="normal" fill="#000" style="stroke-width:0.42px">Amplitude in superstall</text>
<text x="284.20" y="727.60" font-size="11.2" text-anchor="start" font-weight="normal" fill="#000" style="stroke-width:0.5px">ATPγS</text>
<line x1="54.40" y1="833.60" x2="203.20" y2="833.60" stroke="#888" stroke-width="1" />
<line x1="203.20" y1="833.60" x2="203.20" y2="910.30" stroke="#888" stroke-width="1" />
<line x1="54.40" y1="833.60" x2="54.40" y2="910.30" stroke="#888" stroke-width="1" />
<line x1="54.40" y1="910.30" x2="203.20" y2="910.30" stroke="#9a9a9a" stroke-width="1" />
<line x1="49.20" y1="910.30" x2="54.40" y2="910.30" stroke="#777" stroke-width="1" />
<text x="46.90" y="914.30" font-size="11.4" text-anchor="end" font-weight="normal" fill="#000" >0</text>
<line x1="49.20" y1="894.96" x2="54.40" y2="894.96" stroke="#777" stroke-width="1" />
<line x1="49.20" y1="879.62" x2="54.40" y2="879.62" stroke="#777" stroke-width="1" />
<text x="46.90" y="883.62" font-size="11.4" text-anchor="end" font-weight="normal" fill="#000" >0.10</text>
<line x1="49.20" y1="864.28" x2="54.40" y2="864.28" stroke="#777" stroke-width="1" />
<line x1="49.20" y1="848.94" x2="54.40" y2="848.94" stroke="#777" stroke-width="1" />
<text x="46.90" y="852.94" font-size="11.4" text-anchor="end" font-weight="normal" fill="#000" >0.20</text>
<line x1="49.20" y1="833.60" x2="54.40" y2="833.60" stroke="#777" stroke-width="1" />
<line x1="54.40" y1="910.80" x2="54.40" y2="917.90" stroke="#666" stroke-width="1" />
<line x1="58.65" y1="910.80" x2="58.65" y2="915.00" stroke="#555" stroke-width="1" />
<line x1="62.90" y1="910.80" x2="62.90" y2="915.00" stroke="#555" stroke-width="1" />
<line x1="67.15" y1="910.80" x2="67.15" y2="915.00" stroke="#555" stroke-width="1" />
<line x1="71.41" y1="910.80" x2="71.41" y2="915.00" stroke="#555" stroke-width="1" />
<line x1="75.66" y1="910.80" x2="75.66" y2="917.90" stroke="#666" stroke-width="1" />
<line x1="79.91" y1="910.80" x2="79.91" y2="915.00" stroke="#555" stroke-width="1" />
<line x1="84.16" y1="910.80" x2="84.16" y2="915.00" stroke="#555" stroke-width="1" />
<line x1="88.41" y1="910.80" x2="88.41" y2="915.00" stroke="#555" stroke-width="1" />
<line x1="92.66" y1="910.80" x2="92.66" y2="915.00" stroke="#555" stroke-width="1" />
<line x1="96.91" y1="910.80" x2="96.91" y2="917.90" stroke="#666" stroke-width="1" />
<line x1="101.17" y1="910.80" x2="101.17" y2="915.00" stroke="#555" stroke-width="1" />
<line x1="105.42" y1="910.80" x2="105.42" y2="915.00" stroke="#555" stroke-width="1" />
<line x1="109.67" y1="910.80" x2="109.67" y2="915.00" stroke="#555" stroke-width="1" />
<line x1="113.92" y1="910.80" x2="113.92" y2="915.00" stroke="#555" stroke-width="1" />
<line x1="118.17" y1="910.80" x2="118.17" y2="917.90" stroke="#666" stroke-width="1" />
<line x1="122.42" y1="910.80" x2="122.42" y2="915.00" stroke="#555" stroke-width="1" />
<line x1="126.67" y1="910.80" x2="126.67" y2="915.00" stroke="#555" stroke-width="1" />
<line x1="130.93" y1="910.80" x2="130.93" y2="915.00" stroke="#555" stroke-width="1" />
<line x1="135.18" y1="910.80" x2="135.18" y2="915.00" stroke="#555" stroke-width="1" />
<line x1="139.43" y1="910.80" x2="139.43" y2="917.90" stroke="#666" stroke-width="1" />
<line x1="143.68" y1="910.80" x2="143.68" y2="915.00" stroke="#555" stroke-width="1" />
<line x1="147.93" y1="910.80" x2="147.93" y2="915.00" stroke="#555" stroke-width="1" />
<line x1="152.18" y1="910.80" x2="152.18" y2="915.00" stroke="#555" stroke-width="1" />
<line x1="156.43" y1="910.80" x2="156.43" y2="915.00" stroke="#555" stroke-width="1" />
<line x1="160.69" y1="910.80" x2="160.69" y2="917.90" stroke="#666" stroke-width="1" />
<line x1="164.94" y1="910.80" x2="164.94" y2="915.00" stroke="#555" stroke-width="1" />
<line x1="169.19" y1="910.80" x2="169.19" y2="915.00" stroke="#555" stroke-width="1" />
<line x1="173.44" y1="910.80" x2="173.44" y2="915.00" stroke="#555" stroke-width="1" />
<line x1="177.69" y1="910.80" x2="177.69" y2="915.00" stroke="#555" stroke-width="1" />
<line x1="181.94" y1="910.80" x2="181.94" y2="917.90" stroke="#666" stroke-width="1" />
<line x1="186.19" y1="910.80" x2="186.19" y2="915.00" stroke="#555" stroke-width="1" />
<line x1="190.45" y1="910.80" x2="190.45" y2="915.00" stroke="#555" stroke-width="1" />
<line x1="194.70" y1="910.80" x2="194.70" y2="915.00" stroke="#555" stroke-width="1" />
<line x1="198.95" y1="910.80" x2="198.95" y2="915.00" stroke="#555" stroke-width="1" />
<line x1="203.20" y1="910.80" x2="203.20" y2="917.90" stroke="#666" stroke-width="1" />
<text x="54.40" y="929.40" font-size="11.4" text-anchor="middle" font-weight="normal" fill="#000" >20</text>
<text x="75.66" y="929.40" font-size="11.4" text-anchor="middle" font-weight="normal" fill="#000" >15</text>
<text x="96.91" y="929.40" font-size="11.4" text-anchor="middle" font-weight="normal" fill="#000" >10</text>
<text x="118.17" y="929.40" font-size="11.4" text-anchor="middle" font-weight="normal" fill="#000" >5</text>
<text x="139.43" y="929.40" font-size="11.4" text-anchor="middle" font-weight="normal" fill="#000" >0</text>
<text x="160.69" y="929.40" font-size="11.4" text-anchor="middle" font-weight="normal" fill="#000" >5</text>
<text x="181.94" y="929.40" font-size="11.4" text-anchor="middle" font-weight="normal" fill="#000" >10</text>
<text x="203.20" y="929.40" font-size="11.4" text-anchor="middle" font-weight="normal" fill="#000" >15</text>
<text transform="translate(18.10,872.55) rotate(-90)" font-size="13" text-anchor="middle" font-weight="normal" >Frequency</text>
<text x="128.50" y="828.20" font-size="13.95" text-anchor="middle" font-weight="normal" fill="#000" style="stroke-width:0.42px">Initial amplitude in superstall</text>
<text x="62.00" y="847.50" font-size="11.2" text-anchor="start" font-weight="normal" fill="#000" style="stroke-width:0.5px">ATP</text>
<text x="128.80" y="942.70" font-size="12.5" text-anchor="middle" font-weight="normal" fill="#000" >Amplitude nm</text>
<line x1="275.40" y1="833.60" x2="424.20" y2="833.60" stroke="#888" stroke-width="1" />
<line x1="424.20" y1="833.60" x2="424.20" y2="911.00" stroke="#888" stroke-width="1" />
<line x1="275.40" y1="833.60" x2="275.40" y2="911.00" stroke="#888" stroke-width="1" />
<line x1="275.40" y1="911.00" x2="424.20" y2="911.00" stroke="#9a9a9a" stroke-width="1" />
<line x1="270.20" y1="911.00" x2="275.40" y2="911.00" stroke="#777" stroke-width="1" />
<text x="267.90" y="915.00" font-size="11.4" text-anchor="end" font-weight="normal" fill="#000" >0</text>
<line x1="270.20" y1="895.52" x2="275.40" y2="895.52" stroke="#777" stroke-width="1" />
<line x1="270.20" y1="880.04" x2="275.40" y2="880.04" stroke="#777" stroke-width="1" />
<text x="267.90" y="884.04" font-size="11.4" text-anchor="end" font-weight="normal" fill="#000" >0.10</text>
<line x1="270.20" y1="864.56" x2="275.40" y2="864.56" stroke="#777" stroke-width="1" />
<line x1="270.20" y1="849.08" x2="275.40" y2="849.08" stroke="#777" stroke-width="1" />
<text x="267.90" y="853.08" font-size="11.4" text-anchor="end" font-weight="normal" fill="#000" >0.20</text>
<line x1="270.20" y1="833.60" x2="275.40" y2="833.60" stroke="#777" stroke-width="1" />
<line x1="275.40" y1="911.50" x2="275.40" y2="918.60" stroke="#666" stroke-width="1" />
<line x1="279.65" y1="911.50" x2="279.65" y2="915.70" stroke="#555" stroke-width="1" />
<line x1="283.90" y1="911.50" x2="283.90" y2="915.70" stroke="#555" stroke-width="1" />
<line x1="288.15" y1="911.50" x2="288.15" y2="915.70" stroke="#555" stroke-width="1" />
<line x1="292.41" y1="911.50" x2="292.41" y2="915.70" stroke="#555" stroke-width="1" />
<line x1="296.66" y1="911.50" x2="296.66" y2="918.60" stroke="#666" stroke-width="1" />
<line x1="300.91" y1="911.50" x2="300.91" y2="915.70" stroke="#555" stroke-width="1" />
<line x1="305.16" y1="911.50" x2="305.16" y2="915.70" stroke="#555" stroke-width="1" />
<line x1="309.41" y1="911.50" x2="309.41" y2="915.70" stroke="#555" stroke-width="1" />
<line x1="313.66" y1="911.50" x2="313.66" y2="915.70" stroke="#555" stroke-width="1" />
<line x1="317.91" y1="911.50" x2="317.91" y2="918.60" stroke="#666" stroke-width="1" />
<line x1="322.17" y1="911.50" x2="322.17" y2="915.70" stroke="#555" stroke-width="1" />
<line x1="326.42" y1="911.50" x2="326.42" y2="915.70" stroke="#555" stroke-width="1" />
<line x1="330.67" y1="911.50" x2="330.67" y2="915.70" stroke="#555" stroke-width="1" />
<line x1="334.92" y1="911.50" x2="334.92" y2="915.70" stroke="#555" stroke-width="1" />
<line x1="339.17" y1="911.50" x2="339.17" y2="918.60" stroke="#666" stroke-width="1" />
<line x1="343.42" y1="911.50" x2="343.42" y2="915.70" stroke="#555" stroke-width="1" />
<line x1="347.67" y1="911.50" x2="347.67" y2="915.70" stroke="#555" stroke-width="1" />
<line x1="351.93" y1="911.50" x2="351.93" y2="915.70" stroke="#555" stroke-width="1" />
<line x1="356.18" y1="911.50" x2="356.18" y2="915.70" stroke="#555" stroke-width="1" />
<line x1="360.43" y1="911.50" x2="360.43" y2="918.60" stroke="#666" stroke-width="1" />
<line x1="364.68" y1="911.50" x2="364.68" y2="915.70" stroke="#555" stroke-width="1" />
<line x1="368.93" y1="911.50" x2="368.93" y2="915.70" stroke="#555" stroke-width="1" />
<line x1="373.18" y1="911.50" x2="373.18" y2="915.70" stroke="#555" stroke-width="1" />
<line x1="377.43" y1="911.50" x2="377.43" y2="915.70" stroke="#555" stroke-width="1" />
<line x1="381.69" y1="911.50" x2="381.69" y2="918.60" stroke="#666" stroke-width="1" />
<line x1="385.94" y1="911.50" x2="385.94" y2="915.70" stroke="#555" stroke-width="1" />
<line x1="390.19" y1="911.50" x2="390.19" y2="915.70" stroke="#555" stroke-width="1" />
<line x1="394.44" y1="911.50" x2="394.44" y2="915.70" stroke="#555" stroke-width="1" />
<line x1="398.69" y1="911.50" x2="398.69" y2="915.70" stroke="#555" stroke-width="1" />
<line x1="402.94" y1="911.50" x2="402.94" y2="918.60" stroke="#666" stroke-width="1" />
<line x1="407.19" y1="911.50" x2="407.19" y2="915.70" stroke="#555" stroke-width="1" />
<line x1="411.45" y1="911.50" x2="411.45" y2="915.70" stroke="#555" stroke-width="1" />
<line x1="415.70" y1="911.50" x2="415.70" y2="915.70" stroke="#555" stroke-width="1" />
<line x1="419.95" y1="911.50" x2="419.95" y2="915.70" stroke="#555" stroke-width="1" />
<line x1="424.20" y1="911.50" x2="424.20" y2="918.60" stroke="#666" stroke-width="1" />
<text x="275.40" y="930.10" font-size="11.4" text-anchor="middle" font-weight="normal" fill="#000" >20</text>
<text x="296.66" y="930.10" font-size="11.4" text-anchor="middle" font-weight="normal" fill="#000" >15</text>
<text x="317.91" y="930.10" font-size="11.4" text-anchor="middle" font-weight="normal" fill="#000" >10</text>
<text x="339.17" y="930.10" font-size="11.4" text-anchor="middle" font-weight="normal" fill="#000" >5</text>
<text x="360.43" y="930.10" font-size="11.4" text-anchor="middle" font-weight="normal" fill="#000" >0</text>
<text x="381.69" y="930.10" font-size="11.4" text-anchor="middle" font-weight="normal" fill="#000" >5</text>
<text x="402.94" y="930.10" font-size="11.4" text-anchor="middle" font-weight="normal" fill="#000" >10</text>
<text x="424.20" y="930.10" font-size="11.4" text-anchor="middle" font-weight="normal" fill="#000" >15</text>
<text transform="translate(239.10,872.90) rotate(-90)" font-size="13" text-anchor="middle" font-weight="normal" >Frequency</text>
<text x="349.50" y="828.20" font-size="13.95" text-anchor="middle" font-weight="normal" fill="#000" style="stroke-width:0.42px">Initial amplitude in superstall</text>
<text x="283.00" y="847.50" font-size="11.2" text-anchor="start" font-weight="normal" fill="#000" style="stroke-width:0.5px">ATPγS</text>
<text x="349.80" y="943.40" font-size="12.5" text-anchor="middle" font-weight="normal" fill="#000" >Amplitude nm</text>
<rect x="57.78" y="788.40" width="3.65" height="1.30" fill="#ff5200" />
<rect x="62.03" y="788.40" width="3.65" height="1.30" fill="#ff5200" />
<rect x="66.28" y="787.90" width="3.65" height="1.80" fill="#ff5200" />
<rect x="70.54" y="785.00" width="3.65" height="4.70" fill="#ff5200" />
<rect x="74.79" y="783.90" width="3.65" height="5.80" fill="#ff5200" />
<rect x="79.04" y="780.00" width="3.65" height="9.70" fill="#ff5200" />
<rect x="83.29" y="779.00" width="3.65" height="10.70" fill="#ff5200" />
<rect x="87.55" y="780.90" width="3.65" height="8.80" fill="#ff5200" />
<rect x="91.80" y="783.00" width="3.65" height="6.70" fill="#ff5200" />
<rect x="96.05" y="785.10" width="3.65" height="4.60" fill="#ff5200" />
<rect x="100.31" y="778.00" width="3.65" height="11.70" fill="#ff5200" />
<rect x="104.56" y="761.30" width="3.65" height="28.40" fill="#ff5200" />
<rect x="108.81" y="746.10" width="3.65" height="43.60" fill="#ff5200" />
<rect x="113.06" y="756.70" width="3.65" height="33.00" fill="#ff5200" />
<rect x="117.32" y="779.10" width="3.65" height="10.60" fill="#ff5200" />
<rect x="121.57" y="786.10" width="3.65" height="3.60" fill="#ff5200" />
<rect x="155.59" y="785.80" width="3.65" height="3.90" fill="#0000ff" />
<rect x="159.84" y="763.40" width="3.65" height="26.30" fill="#0000ff" />
<rect x="164.10" y="739.90" width="3.65" height="49.80" fill="#0000ff" />
<rect x="168.35" y="725.90" width="3.65" height="63.80" fill="#0000ff" />
<rect x="172.60" y="751.90" width="3.65" height="37.80" fill="#0000ff" />
<rect x="176.86" y="774.80" width="3.65" height="14.90" fill="#0000ff" />
<rect x="181.11" y="782.80" width="3.65" height="6.90" fill="#0000ff" />
<rect x="185.36" y="787.20" width="3.65" height="2.50" fill="#0000ff" />
<rect x="279.03" y="788.60" width="3.65" height="1.40" fill="#ff5200" />
<rect x="287.53" y="789.00" width="3.65" height="1.00" fill="#ff5200" />
<rect x="291.78" y="789.00" width="3.65" height="1.00" fill="#ff5200" />
<rect x="296.03" y="787.00" width="3.65" height="3.00" fill="#ff5200" />
<rect x="300.28" y="786.20" width="3.65" height="3.80" fill="#ff5200" />
<rect x="304.53" y="784.60" width="3.65" height="5.40" fill="#ff5200" />
<rect x="308.79" y="786.00" width="3.65" height="4.00" fill="#ff5200" />
<rect x="313.04" y="784.00" width="3.65" height="6.00" fill="#ff5200" />
<rect x="317.29" y="783.00" width="3.65" height="7.00" fill="#ff5200" />
<rect x="321.54" y="772.20" width="3.65" height="17.80" fill="#ff5200" />
<rect x="325.79" y="761.00" width="3.65" height="29.00" fill="#ff5200" />
<rect x="330.04" y="724.40" width="3.65" height="65.60" fill="#ff5200" />
<rect x="334.29" y="720.20" width="3.65" height="69.80" fill="#ff5200" />
<rect x="338.55" y="754.80" width="3.65" height="35.20" fill="#ff5200" />
<rect x="342.80" y="776.40" width="3.65" height="13.60" fill="#ff5200" />
<rect x="376.81" y="778.80" width="3.65" height="11.20" fill="#0000ff" />
<rect x="381.06" y="750.60" width="3.65" height="39.40" fill="#0000ff" />
<rect x="385.31" y="749.80" width="3.65" height="40.20" fill="#0000ff" />
<rect x="389.56" y="767.00" width="3.65" height="23.00" fill="#0000ff" />
<rect x="393.81" y="782.60" width="3.65" height="7.40" fill="#0000ff" />
<rect x="398.07" y="786.60" width="3.65" height="3.40" fill="#0000ff" />
<rect x="56.83" y="909.60" width="3.65" height="0.70" fill="#ff5200" />
<rect x="61.08" y="909.60" width="3.65" height="0.70" fill="#ff5200" />
<rect x="65.33" y="906.00" width="3.65" height="4.30" fill="#ff5200" />
<rect x="69.58" y="903.40" width="3.65" height="6.90" fill="#ff5200" />
<rect x="73.83" y="902.00" width="3.65" height="8.30" fill="#ff5200" />
<rect x="78.08" y="894.80" width="3.65" height="15.50" fill="#ff5200" />
<rect x="82.33" y="893.00" width="3.65" height="17.30" fill="#ff5200" />
<rect x="86.59" y="894.80" width="3.65" height="15.50" fill="#ff5200" />
<rect x="90.84" y="900.60" width="3.65" height="9.70" fill="#ff5200" />
<rect x="95.09" y="898.80" width="3.65" height="11.50" fill="#ff5200" />
<rect x="99.34" y="894.80" width="3.65" height="15.50" fill="#ff5200" />
<rect x="103.59" y="875.80" width="3.65" height="34.50" fill="#ff5200" />
<rect x="107.84" y="835.00" width="3.65" height="75.30" fill="#ff5200" />
<rect x="112.09" y="870.00" width="3.65" height="40.30" fill="#ff5200" />
<rect x="116.35" y="902.00" width="3.65" height="8.30" fill="#ff5200" />
<rect x="120.60" y="904.80" width="3.65" height="5.50" fill="#ff5200" />
<rect x="154.61" y="909.60" width="3.65" height="0.70" fill="#0000ff" />
<rect x="158.86" y="906.20" width="3.65" height="4.10" fill="#0000ff" />
<rect x="163.11" y="908.00" width="3.65" height="2.30" fill="#0000ff" />
<rect x="167.36" y="906.20" width="3.65" height="4.10" fill="#0000ff" />
<rect x="171.61" y="902.00" width="3.65" height="8.30" fill="#0000ff" />
<rect x="175.87" y="908.00" width="3.65" height="2.30" fill="#0000ff" />
<rect x="180.12" y="904.80" width="3.65" height="5.50" fill="#0000ff" />
<rect x="184.37" y="908.00" width="3.65" height="2.30" fill="#0000ff" />
<rect x="286.33" y="909.20" width="3.65" height="1.80" fill="#ff5200" />
<rect x="290.58" y="909.20" width="3.65" height="1.80" fill="#ff5200" />
<rect x="294.83" y="906.60" width="3.65" height="4.40" fill="#ff5200" />
<rect x="303.33" y="906.60" width="3.65" height="4.40" fill="#ff5200" />
<rect x="307.59" y="908.00" width="3.65" height="3.00" fill="#ff5200" />
<rect x="311.84" y="905.00" width="3.65" height="6.00" fill="#ff5200" />
<rect x="316.09" y="899.80" width="3.65" height="11.20" fill="#ff5200" />
<rect x="320.34" y="885.00" width="3.65" height="26.00" fill="#ff5200" />
<rect x="324.59" y="876.00" width="3.65" height="35.00" fill="#ff5200" />
<rect x="328.84" y="833.60" width="3.65" height="77.40" fill="#ff5200" />
<rect x="333.09" y="839.60" width="3.65" height="71.40" fill="#ff5200" />
<rect x="337.35" y="876.00" width="3.65" height="35.00" fill="#ff5200" />
<rect x="341.60" y="904.00" width="3.65" height="7.00" fill="#ff5200" />
<rect x="375.61" y="909.20" width="3.65" height="1.80" fill="#0000ff" />
<rect x="379.86" y="899.80" width="3.65" height="11.20" fill="#0000ff" />
<rect x="384.11" y="894.80" width="3.65" height="16.20" fill="#0000ff" />
<rect x="388.36" y="908.20" width="3.65" height="2.80" fill="#0000ff" />
<polygon points="79.00,764.00 91.10,764.00 85.00,774.10" fill="#000"/>
<polygon points="77.60,875.60 88.60,875.60 83.10,885.00" fill="#000"/>
<rect x="347.90" y="718.10" width="5.30" height="5.30" fill="#0000ff" />
<rect x="347.90" y="729.40" width="5.30" height="5.30" fill="#ff5200" />
<text x="358.20" y="724.20" font-size="10.1" text-anchor="start" font-weight="normal" fill="#000" >Forward steps</text>
<text x="358.20" y="735.90" font-size="10.1" text-anchor="start" font-weight="normal" fill="#000" >Backsteps</text>
</svg></div></body></html>
